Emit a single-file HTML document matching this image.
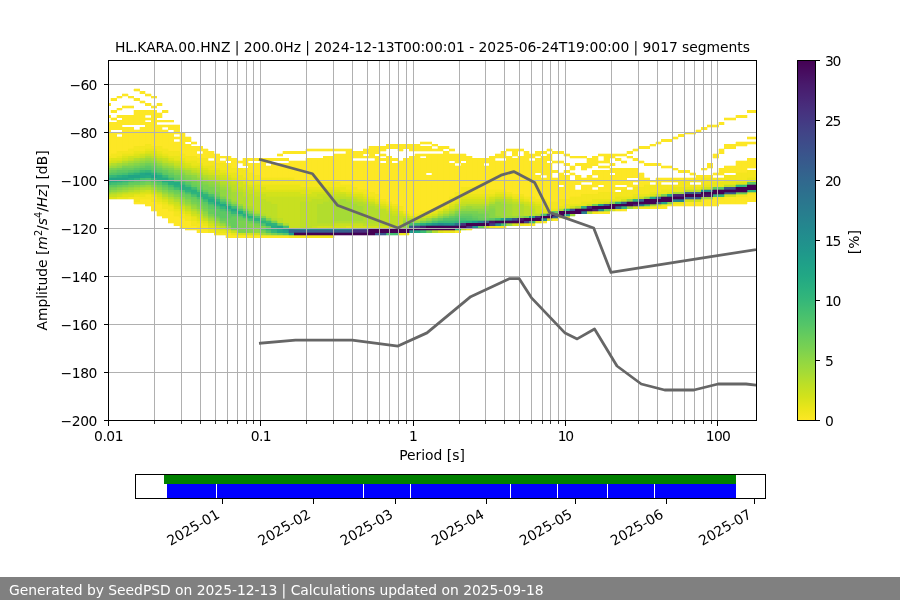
<!DOCTYPE html>
<html><head><meta charset="utf-8"><title>PPSD HL.KARA.00.HNZ</title>
<style>html,body{margin:0;padding:0;background:#fff;overflow:hidden}svg{display:block}text{font-family:"DejaVu Sans","Liberation Sans",sans-serif;font-size:13.89px;fill:#000}</style></head><body>
<svg width="900" height="600" viewBox="0 0 900 600">
<rect width="900" height="600" fill="#fff"/>
<defs><clipPath id="ax"><rect x="108" y="60" width="648" height="360"/></clipPath>
<linearGradient id="cb" x1="0" y1="0" x2="0" y2="1"><stop offset="0.0000" stop-color="#440154"/><stop offset="0.0333" stop-color="#470d60"/><stop offset="0.0667" stop-color="#481a6c"/><stop offset="0.1000" stop-color="#482475"/><stop offset="0.1333" stop-color="#472f7d"/><stop offset="0.1667" stop-color="#443983"/><stop offset="0.2000" stop-color="#414487"/><stop offset="0.2333" stop-color="#3d4d8a"/><stop offset="0.2667" stop-color="#39568c"/><stop offset="0.3000" stop-color="#355f8d"/><stop offset="0.3333" stop-color="#31688e"/><stop offset="0.3667" stop-color="#2d708e"/><stop offset="0.4000" stop-color="#2a788e"/><stop offset="0.4333" stop-color="#27808e"/><stop offset="0.4667" stop-color="#23888e"/><stop offset="0.5000" stop-color="#21908d"/><stop offset="0.5333" stop-color="#1f988b"/><stop offset="0.5667" stop-color="#1fa188"/><stop offset="0.6000" stop-color="#22a884"/><stop offset="0.6333" stop-color="#2ab07f"/><stop offset="0.6667" stop-color="#35b779"/><stop offset="0.7000" stop-color="#44bf70"/><stop offset="0.7333" stop-color="#54c568"/><stop offset="0.7667" stop-color="#67cc5c"/><stop offset="0.8000" stop-color="#7ad151"/><stop offset="0.8333" stop-color="#90d743"/><stop offset="0.8667" stop-color="#a5db36"/><stop offset="0.9000" stop-color="#bddf26"/><stop offset="0.9333" stop-color="#d2e21b"/><stop offset="0.9667" stop-color="#eae51a"/><stop offset="1.0000" stop-color="#fde725"/></linearGradient></defs>
<g clip-path="url(#ax)" shape-rendering="crispEdges">
<path fill="#fde725" stroke="#fde725" stroke-width="0.3" d="M105.13 103.2H110.87V105.6H105.13zM105.13 115.2H110.87V117.6H105.13zM105.13 122.4H110.87V156.0H105.13zM110.87 98.4H116.60V100.8H110.87zM110.87 110.4H116.60V112.8H110.87zM110.87 117.6H116.60V120.0H110.87zM110.87 122.4H116.60V129.6H110.87zM110.87 132.0H116.60V153.6H110.87zM116.60 96.0H122.33V98.4H116.60zM116.60 108.0H122.33V110.4H116.60zM116.60 115.2H122.33V117.6H116.60zM116.60 120.0H122.33V129.6H116.60zM116.60 132.0H122.33V134.4H116.60zM116.60 136.8H122.33V151.2H116.60zM122.33 93.6H128.07V96.0H122.33zM122.33 105.6H128.07V108.0H122.33zM122.33 115.2H128.07V124.8H122.33zM122.33 127.2H128.07V151.2H122.33zM128.07 96.0H133.80V98.4H128.07zM128.07 105.6H133.80V108.0H128.07zM128.07 115.2H133.80V124.8H128.07zM128.07 127.2H133.80V148.8H128.07zM133.80 88.8H139.53V91.2H133.80zM133.80 98.4H139.53V100.8H133.80zM133.80 110.4H139.53V124.8H133.80zM133.80 129.6H139.53V146.4H133.80zM133.80 201.6H139.53V204.0H133.80zM139.53 91.2H145.27V93.6H139.53zM139.53 100.8H145.27V103.2H139.53zM139.53 110.4H145.27V124.8H139.53zM139.53 127.2H145.27V146.4H139.53zM139.53 199.2H145.27V204.0H139.53zM145.27 93.6H151.00V96.0H145.27zM145.27 103.2H151.00V105.6H145.27zM145.27 110.4H151.00V115.2H145.27zM145.27 117.6H151.00V120.0H145.27zM145.27 122.4H151.00V144.0H145.27zM145.27 199.2H151.00V206.4H145.27zM151.00 96.0H156.73V98.4H151.00zM151.00 105.6H156.73V108.0H151.00zM151.00 110.4H156.73V146.4H151.00zM151.00 201.6H156.73V211.2H151.00zM156.73 103.2H162.47V105.6H156.73zM156.73 112.8H162.47V117.6H156.73zM156.73 120.0H162.47V122.4H156.73zM156.73 124.8H162.47V146.4H156.73zM156.73 204.0H162.47V216.0H156.73zM162.47 110.4H168.20V112.8H162.47zM162.47 120.0H168.20V122.4H162.47zM162.47 124.8H168.20V127.2H162.47zM162.47 129.6H168.20V148.8H162.47zM162.47 208.8H168.20V218.4H162.47zM168.20 120.0H173.93V122.4H168.20zM168.20 124.8H173.93V129.6H168.20zM168.20 132.0H173.93V151.2H168.20zM168.20 211.2H173.93V223.2H168.20zM173.93 124.8H179.67V134.4H173.93zM173.93 136.8H179.67V139.2H173.93zM173.93 141.6H179.67V151.2H173.93zM173.93 216.0H179.67V225.6H173.93zM179.67 132.0H185.40V153.6H179.67zM179.67 218.4H185.40V228.0H179.67zM185.40 136.8H191.13V141.6H185.40zM185.40 144.0H191.13V156.0H185.40zM185.40 220.8H191.13V230.4H185.40zM191.13 141.6H196.87V144.0H191.13zM191.13 146.4H196.87V156.0H191.13zM191.13 225.6H196.87V230.4H191.13zM196.87 146.4H202.60V151.2H196.87zM196.87 153.6H202.60V158.4H196.87zM196.87 228.0H202.60V232.8H196.87zM202.60 148.8H208.34V158.4H202.60zM202.60 230.4H208.34V232.8H202.60zM208.34 151.2H214.07V158.4H208.34zM214.07 153.6H219.80V163.2H214.07zM219.80 156.0H225.54V158.4H219.80zM219.80 160.8H225.54V163.2H219.80zM225.54 156.0H231.27V160.8H225.54zM225.54 163.2H231.27V165.6H225.54zM225.54 235.2H231.27V237.6H225.54zM231.27 158.4H237.00V168.0H231.27zM231.27 235.2H237.00V237.6H231.27zM237.00 160.8H242.74V163.2H237.00zM237.00 235.2H242.74V237.6H237.00zM242.74 158.4H248.47V165.6H242.74zM242.74 168.0H248.47V170.4H242.74zM242.74 235.2H248.47V237.6H242.74zM248.47 158.4H254.20V160.8H248.47zM248.47 163.2H254.20V172.8H248.47zM248.47 235.2H254.20V237.6H248.47zM254.20 158.4H259.94V160.8H254.20zM254.20 163.2H259.94V175.2H254.20zM254.20 235.2H259.94V237.6H254.20zM259.94 158.4H265.67V177.6H259.94zM259.94 235.2H265.67V237.6H259.94zM265.67 158.4H271.40V163.2H265.67zM265.67 165.6H271.40V177.6H265.67zM265.67 235.2H271.40V237.6H265.67zM271.40 158.4H277.14V160.8H271.40zM271.40 163.2H277.14V177.6H271.40zM271.40 235.2H277.14V237.6H271.40zM277.14 153.6H282.87V156.0H277.14zM277.14 158.4H282.87V160.8H277.14zM277.14 163.2H282.87V177.6H277.14zM277.14 235.2H282.87V237.6H277.14zM282.87 151.2H288.60V153.6H282.87zM282.87 158.4H288.60V160.8H282.87zM282.87 163.2H288.60V177.6H282.87zM282.87 235.2H288.60V237.6H282.87zM288.60 151.2H294.34V153.6H288.60zM288.60 160.8H294.34V177.6H288.60zM294.34 151.2H300.07V153.6H294.34zM294.34 160.8H300.07V180.0H294.34zM300.07 151.2H305.80V153.6H300.07zM300.07 160.8H305.80V180.0H300.07zM305.80 148.8H311.54V151.2H305.80zM305.80 158.4H311.54V180.0H305.80zM311.54 148.8H317.27V151.2H311.54zM311.54 158.4H317.27V180.0H311.54zM317.27 148.8H323.00V151.2H317.27zM317.27 158.4H323.00V182.4H317.27zM323.00 148.8H328.74V151.2H323.00zM323.00 156.0H328.74V182.4H323.00zM328.74 148.8H334.47V151.2H328.74zM328.74 156.0H334.47V182.4H328.74zM334.47 148.8H340.20V151.2H334.47zM334.47 153.6H340.20V182.4H334.47zM340.20 148.8H345.94V151.2H340.20zM340.20 153.6H345.94V184.8H340.20zM345.94 148.8H351.67V184.8H345.94zM351.67 151.2H357.40V158.4H351.67zM351.67 160.8H357.40V187.2H351.67zM357.40 151.2H363.14V158.4H357.40zM357.40 160.8H363.14V189.6H357.40zM363.14 148.8H368.87V153.6H363.14zM363.14 156.0H368.87V158.4H363.14zM363.14 160.8H368.87V189.6H363.14zM368.87 146.4H374.60V158.4H368.87zM368.87 160.8H374.60V192.0H368.87zM374.60 146.4H380.34V153.6H374.60zM374.60 156.0H380.34V194.4H374.60zM380.34 146.4H386.07V151.2H380.34zM380.34 153.6H386.07V156.0H380.34zM380.34 158.4H386.07V160.8H380.34zM380.34 163.2H386.07V199.2H380.34zM386.07 144.0H391.80V148.8H386.07zM386.07 156.0H391.80V201.6H386.07zM391.80 144.0H397.54V148.8H391.80zM391.80 158.4H397.54V160.8H391.80zM391.80 163.2H397.54V204.0H391.80zM397.54 144.0H403.27V151.2H397.54zM397.54 160.8H403.27V206.4H397.54zM403.27 144.0H409.01V148.8H403.27zM403.27 158.4H409.01V211.2H403.27zM409.01 144.0H414.74V151.2H409.01zM409.01 156.0H414.74V213.6H409.01zM414.74 144.0H420.47V151.2H414.74zM414.74 153.6H420.47V213.6H414.74zM420.47 141.6H426.21V144.0H420.47zM420.47 146.4H426.21V151.2H420.47zM420.47 153.6H426.21V156.0H420.47zM420.47 158.4H426.21V211.2H420.47zM426.21 141.6H431.94V144.0H426.21zM426.21 146.4H431.94V151.2H426.21zM426.21 153.6H431.94V172.8H426.21zM426.21 175.2H431.94V211.2H426.21zM431.94 144.0H437.67V146.4H431.94zM431.94 148.8H437.67V151.2H431.94zM431.94 153.6H437.67V208.8H431.94zM437.67 146.4H443.41V151.2H437.67zM437.67 153.6H443.41V206.4H437.67zM443.41 146.4H449.14V148.8H443.41zM443.41 151.2H449.14V201.6H443.41zM449.14 148.8H454.87V151.2H449.14zM449.14 153.6H454.87V160.8H449.14zM449.14 163.2H454.87V196.8H449.14zM454.87 153.6H460.61V163.2H454.87zM454.87 165.6H460.61V192.0H454.87zM454.87 230.4H460.61V232.8H454.87zM460.61 153.6H466.34V160.8H460.61zM460.61 163.2H466.34V187.2H460.61zM466.34 156.0H472.07V187.2H466.34zM472.07 158.4H477.81V187.2H472.07zM477.81 158.4H483.54V189.6H477.81zM483.54 158.4H489.27V163.2H483.54zM483.54 165.6H489.27V189.6H483.54zM489.27 156.0H495.01V189.6H489.27zM495.01 153.6H500.74V158.4H495.01zM495.01 160.8H500.74V189.6H495.01zM495.01 225.6H500.74V228.0H495.01zM500.74 151.2H506.47V158.4H500.74zM500.74 160.8H506.47V189.6H500.74zM500.74 225.6H506.47V228.0H500.74zM506.47 148.8H512.21V151.2H506.47zM506.47 156.0H512.21V192.0H506.47zM512.21 148.8H517.94V156.0H512.21zM512.21 158.4H517.94V194.4H512.21zM517.94 148.8H523.67V151.2H517.94zM517.94 156.0H523.67V194.4H517.94zM523.67 151.2H529.41V196.8H523.67zM529.41 153.6H535.14V158.4H529.41zM529.41 160.8H535.14V196.8H529.41zM529.41 223.2H535.14V225.6H529.41zM535.14 151.2H540.87V156.0H535.14zM535.14 158.4H540.87V172.8H535.14zM535.14 175.2H540.87V199.2H535.14zM540.87 151.2H546.61V153.6H540.87zM540.87 156.0H546.61V175.2H540.87zM540.87 177.6H546.61V199.2H540.87zM540.87 220.8H546.61V223.2H540.87zM546.61 148.8H552.34V151.2H546.61zM546.61 153.6H552.34V160.8H546.61zM546.61 163.2H552.34V201.6H546.61zM552.34 151.2H558.07V153.6H552.34zM552.34 160.8H558.07V163.2H552.34zM552.34 170.4H558.07V172.8H552.34zM552.34 177.6H558.07V201.6H552.34zM552.34 218.4H558.07V220.8H552.34zM558.07 151.2H563.81V153.6H558.07zM558.07 160.8H563.81V163.2H558.07zM558.07 172.8H563.81V184.8H558.07zM558.07 187.2H563.81V199.2H558.07zM563.81 153.6H569.54V156.0H563.81zM563.81 163.2H569.54V165.6H563.81zM563.81 170.4H569.54V172.8H563.81zM563.81 175.2H569.54V199.2H563.81zM563.81 216.0H569.54V218.4H563.81zM569.54 156.0H575.27V158.4H569.54zM569.54 165.6H575.27V170.4H569.54zM569.54 172.8H575.27V175.2H569.54zM569.54 180.0H575.27V196.8H569.54zM575.27 156.0H581.01V158.4H575.27zM575.27 163.2H581.01V165.6H575.27zM575.27 175.2H581.01V184.8H575.27zM575.27 189.6H581.01V196.8H575.27zM581.01 156.0H586.74V158.4H581.01zM581.01 163.2H586.74V170.4H581.01zM581.01 177.6H586.74V182.4H581.01zM581.01 184.8H586.74V194.4H581.01zM586.74 158.4H592.47V168.0H586.74zM586.74 175.2H592.47V182.4H586.74zM586.74 184.8H592.47V194.4H586.74zM592.47 156.0H598.21V165.6H592.47zM592.47 170.4H598.21V175.2H592.47zM592.47 177.6H598.21V187.2H592.47zM592.47 189.6H598.21V194.4H592.47zM598.21 153.6H603.94V156.0H598.21zM598.21 160.8H603.94V163.2H598.21zM598.21 165.6H603.94V168.0H598.21zM598.21 170.4H603.94V184.8H598.21zM598.21 187.2H603.94V192.0H598.21zM598.21 211.2H603.94V213.6H598.21zM603.94 153.6H609.68V163.2H603.94zM603.94 165.6H609.68V168.0H603.94zM603.94 170.4H609.68V192.0H603.94zM603.94 211.2H609.68V213.6H603.94zM609.68 153.6H615.41V158.4H609.68zM609.68 163.2H615.41V165.6H609.68zM609.68 168.0H615.41V172.8H609.68zM609.68 175.2H615.41V192.0H609.68zM615.41 153.6H621.14V156.0H615.41zM615.41 158.4H621.14V160.8H615.41zM615.41 168.0H621.14V184.8H615.41zM615.41 187.2H621.14V189.6H615.41zM621.14 153.6H626.88V156.0H621.14zM621.14 160.8H626.88V163.2H621.14zM621.14 168.0H626.88V184.8H621.14zM621.14 187.2H626.88V189.6H621.14zM621.14 208.8H626.88V211.2H621.14zM626.88 151.2H632.61V153.6H626.88zM626.88 156.0H632.61V158.4H626.88zM626.88 168.0H632.61V177.6H626.88zM626.88 180.0H632.61V187.2H626.88zM632.61 148.8H638.34V151.2H632.61zM632.61 158.4H638.34V160.8H632.61zM632.61 168.0H638.34V177.6H632.61zM632.61 180.0H638.34V182.4H632.61zM632.61 184.8H638.34V187.2H632.61zM638.34 146.4H644.08V148.8H638.34zM638.34 160.8H644.08V163.2H638.34zM638.34 172.8H644.08V187.2H638.34zM644.08 146.4H649.81V148.8H644.08zM644.08 163.2H649.81V165.6H644.08zM644.08 177.6H649.81V184.8H644.08zM649.81 144.0H655.54V146.4H649.81zM649.81 163.2H655.54V165.6H649.81zM649.81 180.0H655.54V182.4H649.81zM649.81 206.4H655.54V208.8H649.81zM655.54 141.6H661.28V144.0H655.54zM655.54 163.2H661.28V165.6H655.54zM655.54 177.6H661.28V184.8H655.54zM655.54 206.4H661.28V208.8H655.54zM661.28 139.2H667.01V141.6H661.28zM661.28 165.6H667.01V168.0H661.28zM661.28 177.6H667.01V182.4H661.28zM661.28 206.4H667.01V208.8H661.28zM667.01 139.2H672.74V141.6H667.01zM667.01 165.6H672.74V168.0H667.01zM667.01 177.6H672.74V182.4H667.01zM667.01 204.0H672.74V206.4H667.01zM672.74 136.8H678.48V139.2H672.74zM672.74 168.0H678.48V170.4H672.74zM672.74 177.6H678.48V180.0H672.74zM672.74 204.0H678.48V206.4H672.74zM678.48 134.4H684.21V136.8H678.48zM678.48 170.4H684.21V172.8H678.48zM678.48 177.6H684.21V180.0H678.48zM678.48 204.0H684.21V206.4H678.48zM684.21 132.0H689.94V134.4H684.21zM684.21 170.4H689.94V172.8H684.21zM684.21 177.6H689.94V180.0H684.21zM684.21 201.6H689.94V206.4H684.21zM689.94 132.0H695.68V134.4H689.94zM689.94 172.8H695.68V175.2H689.94zM689.94 177.6H695.68V180.0H689.94zM689.94 201.6H695.68V206.4H689.94zM695.68 129.6H701.41V132.0H695.68zM695.68 175.2H701.41V180.0H695.68zM695.68 201.6H701.41V206.4H695.68zM701.41 127.2H707.14V129.6H701.41zM701.41 168.0H707.14V170.4H701.41zM701.41 175.2H707.14V177.6H701.41zM701.41 199.2H707.14V206.4H701.41zM707.14 124.8H712.88V127.2H707.14zM707.14 163.2H712.88V168.0H707.14zM707.14 175.2H712.88V177.6H707.14zM707.14 199.2H712.88V206.4H707.14zM712.88 124.8H718.61V127.2H712.88zM712.88 153.6H718.61V158.4H712.88zM712.88 172.8H718.61V175.2H712.88zM712.88 199.2H718.61V206.4H712.88zM718.61 122.4H724.34V124.8H718.61zM718.61 148.8H724.34V153.6H718.61zM718.61 168.0H724.34V175.2H718.61zM718.61 199.2H724.34V204.0H718.61zM724.34 117.6H730.08V120.0H724.34zM724.34 144.0H730.08V148.8H724.34zM724.34 165.6H730.08V172.8H724.34zM724.34 196.8H730.08V204.0H724.34zM730.08 117.6H735.81V120.0H730.08zM730.08 144.0H735.81V148.8H730.08zM730.08 165.6H735.81V172.8H730.08zM730.08 196.8H735.81V204.0H730.08zM735.81 115.2H741.54V117.6H735.81zM735.81 141.6H741.54V146.4H735.81zM735.81 160.8H741.54V172.8H735.81zM735.81 196.8H741.54V204.0H735.81zM741.54 115.2H747.28V117.6H741.54zM741.54 141.6H747.28V146.4H741.54zM741.54 160.8H747.28V172.8H741.54zM741.54 196.8H747.28V204.0H741.54zM747.28 110.4H753.01V112.8H747.28zM747.28 136.8H753.01V139.2H747.28zM747.28 141.6H753.01V144.0H747.28zM747.28 158.4H753.01V168.0H747.28zM747.28 194.4H753.01V201.6H747.28zM753.01 110.4H758.74V112.8H753.01zM753.01 136.8H758.74V139.2H753.01zM753.01 141.6H758.74V144.0H753.01zM753.01 158.4H758.74V168.0H753.01zM753.01 194.4H758.74V201.6H753.01z"/>
<path fill="#f4e61e" stroke="#f4e61e" stroke-width="0.3" d="M105.13 156.0H110.87V158.4H105.13zM110.87 153.6H116.60V158.4H110.87zM116.60 151.2H122.33V156.0H116.60zM122.33 151.2H128.07V153.6H122.33zM128.07 148.8H133.80V153.6H128.07zM128.07 196.8H133.80V199.2H128.07zM133.80 146.4H139.53V151.2H133.80zM133.80 196.8H139.53V201.6H133.80zM139.53 146.4H145.27V151.2H139.53zM139.53 196.8H145.27V199.2H139.53zM145.27 144.0H151.00V148.8H145.27zM145.27 194.4H151.00V199.2H145.27zM151.00 146.4H156.73V148.8H151.00zM151.00 196.8H156.73V201.6H151.00zM156.73 146.4H162.47V151.2H156.73zM156.73 201.6H162.47V204.0H156.73zM162.47 148.8H168.20V153.6H162.47zM162.47 204.0H168.20V208.8H162.47zM168.20 151.2H173.93V156.0H168.20zM168.20 206.4H173.93V211.2H168.20zM173.93 151.2H179.67V156.0H173.93zM173.93 211.2H179.67V216.0H173.93zM179.67 153.6H185.40V158.4H179.67zM179.67 213.6H185.40V218.4H179.67zM185.40 156.0H191.13V160.8H185.40zM185.40 216.0H191.13V220.8H185.40zM191.13 156.0H196.87V160.8H191.13zM191.13 220.8H196.87V225.6H191.13zM196.87 158.4H202.60V163.2H196.87zM196.87 223.2H202.60V228.0H196.87zM202.60 158.4H208.34V165.6H202.60zM202.60 225.6H208.34V230.4H202.60zM208.34 160.8H214.07V165.6H208.34zM208.34 230.4H214.07V232.8H208.34zM214.07 163.2H219.80V168.0H214.07zM214.07 232.8H219.80V235.2H214.07zM219.80 163.2H225.54V170.4H219.80zM219.80 232.8H225.54V235.2H219.80zM225.54 165.6H231.27V172.8H225.54zM225.54 232.8H231.27V235.2H225.54zM231.27 168.0H237.00V172.8H231.27zM237.00 168.0H242.74V175.2H237.00zM242.74 170.4H248.47V177.6H242.74zM248.47 172.8H254.20V180.0H248.47zM254.20 175.2H259.94V182.4H254.20zM259.94 177.6H265.67V184.8H259.94zM265.67 177.6H271.40V184.8H265.67zM271.40 177.6H277.14V184.8H271.40zM277.14 177.6H282.87V184.8H277.14zM282.87 177.6H288.60V184.8H282.87zM288.60 177.6H294.34V184.8H288.60zM288.60 235.2H294.34V237.6H288.60zM294.34 180.0H300.07V184.8H294.34zM294.34 235.2H300.07V237.6H294.34zM300.07 180.0H305.80V187.2H300.07zM300.07 235.2H305.80V237.6H300.07zM305.80 180.0H311.54V187.2H305.80zM305.80 235.2H311.54V237.6H305.80zM311.54 180.0H317.27V187.2H311.54zM311.54 235.2H317.27V237.6H311.54zM317.27 182.4H323.00V187.2H317.27zM317.27 235.2H323.00V237.6H317.27zM323.00 182.4H328.74V187.2H323.00zM323.00 235.2H328.74V237.6H323.00zM328.74 182.4H334.47V187.2H328.74zM328.74 235.2H334.47V237.6H328.74zM334.47 182.4H340.20V187.2H334.47zM340.20 184.8H345.94V187.2H340.20zM345.94 184.8H351.67V189.6H345.94zM351.67 187.2H357.40V192.0H351.67zM357.40 189.6H363.14V192.0H357.40zM363.14 189.6H368.87V194.4H363.14zM368.87 192.0H374.60V196.8H368.87zM374.60 194.4H380.34V199.2H374.60zM380.34 199.2H386.07V201.6H380.34zM386.07 201.6H391.80V204.0H386.07zM391.80 204.0H397.54V206.4H391.80zM397.54 206.4H403.27V211.2H397.54zM403.27 211.2H409.01V213.6H403.27zM409.01 213.6H414.74V216.0H409.01zM414.74 213.6H420.47V216.0H414.74zM420.47 211.2H426.21V216.0H420.47zM426.21 211.2H431.94V213.6H426.21zM431.94 208.8H437.67V211.2H431.94zM437.67 206.4H443.41V208.8H437.67zM443.41 201.6H449.14V206.4H443.41zM449.14 196.8H454.87V201.6H449.14zM454.87 192.0H460.61V196.8H454.87zM460.61 187.2H466.34V194.4H460.61zM466.34 187.2H472.07V194.4H466.34zM466.34 228.0H472.07V230.4H466.34zM472.07 187.2H477.81V194.4H472.07zM477.81 189.6H483.54V194.4H477.81zM483.54 189.6H489.27V194.4H483.54zM489.27 189.6H495.01V194.4H489.27zM489.27 225.6H495.01V228.0H489.27zM495.01 189.6H500.74V192.0H495.01zM500.74 189.6H506.47V192.0H500.74zM506.47 192.0H512.21V194.4H506.47zM512.21 194.4H517.94V196.8H512.21zM517.94 194.4H523.67V196.8H517.94zM523.67 196.8H529.41V199.2H523.67zM523.67 223.2H529.41V225.6H523.67zM529.41 196.8H535.14V201.6H529.41zM535.14 199.2H540.87V201.6H535.14zM540.87 199.2H546.61V204.0H540.87zM546.61 201.6H552.34V208.8H546.61zM552.34 201.6H558.07V208.8H552.34zM558.07 199.2H563.81V206.4H558.07zM563.81 199.2H569.54V204.0H563.81zM569.54 196.8H575.27V204.0H569.54zM575.27 196.8H581.01V204.0H575.27zM581.01 194.4H586.74V201.6H581.01zM586.74 194.4H592.47V201.6H586.74zM592.47 194.4H598.21V199.2H592.47zM592.47 211.2H598.21V213.6H592.47zM598.21 192.0H603.94V199.2H598.21zM603.94 192.0H609.68V199.2H603.94zM609.68 192.0H615.41V199.2H609.68zM615.41 192.0H621.14V196.8H615.41zM615.41 208.8H621.14V211.2H615.41zM621.14 189.6H626.88V196.8H621.14zM626.88 189.6H632.61V196.8H626.88zM632.61 187.2H638.34V194.4H632.61zM638.34 187.2H644.08V194.4H638.34zM638.34 206.4H644.08V208.8H638.34zM644.08 184.8H649.81V194.4H644.08zM644.08 206.4H649.81V208.8H644.08zM649.81 184.8H655.54V192.0H649.81zM655.54 184.8H661.28V192.0H655.54zM661.28 184.8H667.01V189.6H661.28zM661.28 204.0H667.01V206.4H661.28zM667.01 184.8H672.74V189.6H667.01zM672.74 180.0H678.48V182.4H672.74zM672.74 184.8H678.48V187.2H672.74zM678.48 180.0H684.21V187.2H678.48zM684.21 180.0H689.94V187.2H684.21zM689.94 180.0H695.68V182.4H689.94zM689.94 184.8H695.68V187.2H689.94zM695.68 180.0H701.41V182.4H695.68zM695.68 184.8H701.41V187.2H695.68zM701.41 177.6H707.14V184.8H701.41zM707.14 177.6H712.88V184.8H707.14zM712.88 177.6H718.61V182.4H712.88zM712.88 196.8H718.61V199.2H712.88zM718.61 177.6H724.34V182.4H718.61zM718.61 196.8H724.34V199.2H718.61zM724.34 175.2H730.08V180.0H724.34zM730.08 175.2H735.81V180.0H730.08zM735.81 172.8H741.54V180.0H735.81zM735.81 194.4H741.54V196.8H735.81zM741.54 172.8H747.28V180.0H741.54zM741.54 194.4H747.28V196.8H741.54zM747.28 170.4H753.01V177.6H747.28zM747.28 192.0H753.01V194.4H747.28zM753.01 170.4H758.74V177.6H753.01zM753.01 192.0H758.74V194.4H753.01z"/>
<path fill="#eae51a" stroke="#eae51a" stroke-width="0.3" d="M105.13 158.4H110.87V160.8H105.13zM116.60 156.0H122.33V158.4H116.60zM116.60 196.8H122.33V199.2H116.60zM122.33 153.6H128.07V156.0H122.33zM122.33 196.8H128.07V199.2H122.33zM128.07 153.6H133.80V156.0H128.07zM133.80 151.2H139.53V153.6H133.80zM133.80 194.4H139.53V196.8H133.80zM139.53 151.2H145.27V153.6H139.53zM139.53 194.4H145.27V196.8H139.53zM145.27 148.8H151.00V151.2H145.27zM151.00 148.8H156.73V151.2H151.00zM151.00 194.4H156.73V196.8H151.00zM156.73 151.2H162.47V153.6H156.73zM156.73 199.2H162.47V201.6H156.73zM162.47 153.6H168.20V156.0H162.47zM162.47 201.6H168.20V204.0H162.47zM168.20 156.0H173.93V158.4H168.20zM168.20 204.0H173.93V206.4H168.20zM173.93 156.0H179.67V160.8H173.93zM173.93 208.8H179.67V211.2H173.93zM179.67 158.4H185.40V160.8H179.67zM179.67 211.2H185.40V213.6H179.67zM185.40 160.8H191.13V163.2H185.40zM185.40 213.6H191.13V216.0H185.40zM191.13 160.8H196.87V165.6H191.13zM191.13 216.0H196.87V220.8H191.13zM196.87 163.2H202.60V165.6H196.87zM196.87 220.8H202.60V223.2H196.87zM202.60 165.6H208.34V168.0H202.60zM202.60 223.2H208.34V225.6H202.60zM208.34 165.6H214.07V170.4H208.34zM208.34 228.0H214.07V230.4H208.34zM214.07 168.0H219.80V170.4H214.07zM214.07 230.4H219.80V232.8H214.07zM219.80 170.4H225.54V172.8H219.80zM219.80 230.4H225.54V232.8H219.80zM225.54 172.8H231.27V175.2H225.54zM231.27 172.8H237.00V177.6H231.27zM231.27 232.8H237.00V235.2H231.27zM237.00 175.2H242.74V180.0H237.00zM242.74 177.6H248.47V182.4H242.74zM248.47 180.0H254.20V184.8H248.47zM254.20 182.4H259.94V184.8H254.20zM259.94 184.8H265.67V187.2H259.94zM265.67 184.8H271.40V189.6H265.67zM271.40 184.8H277.14V189.6H271.40zM277.14 184.8H282.87V189.6H277.14zM282.87 184.8H288.60V189.6H282.87zM288.60 184.8H294.34V189.6H288.60zM294.34 184.8H300.07V189.6H294.34zM300.07 187.2H305.80V189.6H300.07zM305.80 187.2H311.54V189.6H305.80zM311.54 187.2H317.27V189.6H311.54zM317.27 187.2H323.00V189.6H317.27zM323.00 187.2H328.74V189.6H323.00zM328.74 187.2H334.47V189.6H328.74zM334.47 187.2H340.20V189.6H334.47zM340.20 187.2H345.94V192.0H340.20zM345.94 189.6H351.67V192.0H345.94zM351.67 192.0H357.40V194.4H351.67zM357.40 192.0H363.14V194.4H357.40zM363.14 194.4H368.87V196.8H363.14zM368.87 196.8H374.60V199.2H368.87zM374.60 199.2H380.34V201.6H374.60zM380.34 201.6H386.07V204.0H380.34zM386.07 204.0H391.80V206.4H386.07zM391.80 206.4H397.54V208.8H391.80zM397.54 232.8H403.27V235.2H397.54zM403.27 232.8H409.01V235.2H403.27zM414.74 216.0H420.47V218.4H414.74zM431.94 211.2H437.67V213.6H431.94zM437.67 208.8H443.41V211.2H437.67zM443.41 206.4H449.14V208.8H443.41zM443.41 230.4H449.14V232.8H443.41zM449.14 201.6H454.87V204.0H449.14zM449.14 230.4H454.87V232.8H449.14zM454.87 196.8H460.61V201.6H454.87zM460.61 194.4H466.34V196.8H460.61zM466.34 194.4H472.07V196.8H466.34zM472.07 194.4H477.81V196.8H472.07zM477.81 194.4H483.54V196.8H477.81zM483.54 194.4H489.27V196.8H483.54zM489.27 194.4H495.01V196.8H489.27zM495.01 192.0H500.74V194.4H495.01zM500.74 192.0H506.47V194.4H500.74zM506.47 194.4H512.21V196.8H506.47zM512.21 196.8H517.94V199.2H512.21zM517.94 196.8H523.67V199.2H517.94zM517.94 223.2H523.67V225.6H517.94zM523.67 199.2H529.41V201.6H523.67zM535.14 201.6H540.87V204.0H535.14zM540.87 204.0H546.61V208.8H540.87zM546.61 208.8H552.34V211.2H546.61zM552.34 208.8H558.07V211.2H552.34zM558.07 206.4H563.81V208.8H558.07zM558.07 216.0H563.81V218.4H558.07zM563.81 204.0H569.54V208.8H563.81zM569.54 204.0H575.27V206.4H569.54zM575.27 204.0H581.01V206.4H575.27zM581.01 201.6H586.74V206.4H581.01zM586.74 201.6H592.47V204.0H586.74zM592.47 199.2H598.21V204.0H592.47zM598.21 199.2H603.94V201.6H598.21zM603.94 199.2H609.68V201.6H603.94zM609.68 199.2H615.41V201.6H609.68zM615.41 196.8H621.14V201.6H615.41zM621.14 196.8H626.88V199.2H621.14zM626.88 196.8H632.61V199.2H626.88zM632.61 194.4H638.34V196.8H632.61zM638.34 194.4H644.08V196.8H638.34zM644.08 194.4H649.81V196.8H644.08zM649.81 192.0H655.54V194.4H649.81zM655.54 192.0H661.28V194.4H655.54zM661.28 189.6H667.01V194.4H661.28zM667.01 189.6H672.74V192.0H667.01zM672.74 187.2H678.48V192.0H672.74zM672.74 201.6H678.48V204.0H672.74zM678.48 187.2H684.21V192.0H678.48zM678.48 201.6H684.21V204.0H678.48zM684.21 187.2H689.94V189.6H684.21zM689.94 187.2H695.68V189.6H689.94zM695.68 187.2H701.41V189.6H695.68zM701.41 184.8H707.14V187.2H701.41zM707.14 184.8H712.88V187.2H707.14zM712.88 182.4H718.61V187.2H712.88zM718.61 182.4H724.34V187.2H718.61zM724.34 180.0H730.08V184.8H724.34zM730.08 180.0H735.81V184.8H730.08zM735.81 180.0H741.54V182.4H735.81zM741.54 180.0H747.28V182.4H741.54zM747.28 177.6H753.01V180.0H747.28zM753.01 177.6H758.74V180.0H753.01z"/>
<path fill="#dfe318" stroke="#dfe318" stroke-width="0.3" d="M105.13 160.8H110.87V163.2H105.13zM105.13 196.8H110.87V199.2H105.13zM110.87 158.4H116.60V160.8H110.87zM110.87 196.8H116.60V199.2H110.87zM116.60 158.4H122.33V160.8H116.60zM122.33 156.0H128.07V158.4H122.33zM122.33 194.4H128.07V196.8H122.33zM128.07 194.4H133.80V196.8H128.07zM133.80 153.6H139.53V156.0H133.80zM139.53 192.0H145.27V194.4H139.53zM145.27 151.2H151.00V153.6H145.27zM145.27 192.0H151.00V194.4H145.27zM151.00 151.2H156.73V153.6H151.00zM156.73 153.6H162.47V156.0H156.73zM156.73 196.8H162.47V199.2H156.73zM162.47 156.0H168.20V158.4H162.47zM162.47 199.2H168.20V201.6H162.47zM168.20 158.4H173.93V160.8H168.20zM173.93 206.4H179.67V208.8H173.93zM179.67 160.8H185.40V163.2H179.67zM179.67 208.8H185.40V211.2H179.67zM185.40 163.2H191.13V165.6H185.40zM185.40 211.2H191.13V213.6H185.40zM191.13 165.6H196.87V168.0H191.13zM196.87 165.6H202.60V168.0H196.87zM196.87 218.4H202.60V220.8H196.87zM202.60 168.0H208.34V170.4H202.60zM202.60 220.8H208.34V223.2H202.60zM208.34 170.4H214.07V172.8H208.34zM208.34 225.6H214.07V228.0H208.34zM214.07 170.4H219.80V175.2H214.07zM214.07 228.0H219.80V230.4H214.07zM219.80 172.8H225.54V175.2H219.80zM225.54 175.2H231.27V177.6H225.54zM225.54 230.4H231.27V232.8H225.54zM231.27 177.6H237.00V180.0H231.27zM237.00 180.0H242.74V182.4H237.00zM242.74 182.4H248.47V184.8H242.74zM248.47 184.8H254.20V187.2H248.47zM254.20 184.8H259.94V189.6H254.20zM259.94 187.2H265.67V192.0H259.94zM265.67 189.6H271.40V192.0H265.67zM271.40 189.6H277.14V192.0H271.40zM277.14 189.6H282.87V192.0H277.14zM282.87 189.6H288.60V192.0H282.87zM288.60 189.6H294.34V192.0H288.60zM294.34 189.6H300.07V192.0H294.34zM300.07 189.6H305.80V194.4H300.07zM305.80 189.6H311.54V194.4H305.80zM311.54 189.6H317.27V192.0H311.54zM317.27 189.6H323.00V192.0H317.27zM323.00 189.6H328.74V192.0H323.00zM328.74 189.6H334.47V192.0H328.74zM334.47 189.6H340.20V192.0H334.47zM345.94 192.0H351.67V194.4H345.94zM345.94 225.6H351.67V228.0H345.94zM351.67 194.4H357.40V196.8H351.67zM357.40 194.4H363.14V196.8H357.40zM363.14 196.8H368.87V199.2H363.14zM368.87 199.2H374.60V201.6H368.87zM374.60 201.6H380.34V204.0H374.60zM380.34 204.0H386.07V206.4H380.34zM386.07 206.4H391.80V208.8H386.07zM391.80 208.8H397.54V211.2H391.80zM397.54 211.2H403.27V213.6H397.54zM403.27 213.6H409.01V216.0H403.27zM409.01 216.0H414.74V218.4H409.01zM426.21 213.6H431.94V216.0H426.21zM437.67 230.4H443.41V232.8H437.67zM449.14 204.0H454.87V206.4H449.14zM454.87 201.6H460.61V204.0H454.87zM460.61 196.8H466.34V199.2H460.61zM466.34 196.8H472.07V199.2H466.34zM472.07 196.8H477.81V199.2H472.07zM477.81 196.8H483.54V199.2H477.81zM483.54 196.8H489.27V199.2H483.54zM495.01 194.4H500.74V196.8H495.01zM500.74 194.4H506.47V196.8H500.74zM517.94 199.2H523.67V201.6H517.94zM529.41 201.6H535.14V204.0H529.41zM535.14 204.0H540.87V206.4H535.14zM535.14 220.8H540.87V223.2H535.14zM540.87 208.8H546.61V213.6H540.87zM598.21 201.6H603.94V204.0H598.21zM632.61 196.8H638.34V199.2H632.61zM649.81 194.4H655.54V196.8H649.81zM667.01 192.0H672.74V194.4H667.01zM735.81 182.4H741.54V184.8H735.81zM741.54 182.4H747.28V184.8H741.54zM747.28 180.0H753.01V182.4H747.28zM753.01 180.0H758.74V182.4H753.01z"/>
<path fill="#d2e21b" stroke="#d2e21b" stroke-width="0.3" d="M110.87 160.8H116.60V163.2H110.87zM116.60 194.4H122.33V196.8H116.60zM122.33 158.4H128.07V160.8H122.33zM128.07 156.0H133.80V158.4H128.07zM128.07 192.0H133.80V194.4H128.07zM133.80 156.0H139.53V158.4H133.80zM133.80 192.0H139.53V194.4H133.80zM139.53 153.6H145.27V156.0H139.53zM145.27 189.6H151.00V192.0H145.27zM151.00 153.6H156.73V156.0H151.00zM151.00 192.0H156.73V194.4H151.00zM156.73 156.0H162.47V158.4H156.73zM156.73 194.4H162.47V196.8H156.73zM168.20 201.6H173.93V204.0H168.20zM173.93 160.8H179.67V163.2H173.93zM173.93 204.0H179.67V206.4H173.93zM179.67 163.2H185.40V165.6H179.67zM179.67 206.4H185.40V208.8H179.67zM185.40 165.6H191.13V168.0H185.40zM191.13 213.6H196.87V216.0H191.13zM196.87 168.0H202.60V170.4H196.87zM196.87 216.0H202.60V218.4H196.87zM202.60 170.4H208.34V172.8H202.60zM208.34 172.8H214.07V175.2H208.34zM208.34 223.2H214.07V225.6H208.34zM214.07 225.6H219.80V228.0H214.07zM219.80 175.2H225.54V177.6H219.80zM219.80 228.0H225.54V230.4H219.80zM225.54 177.6H231.27V180.0H225.54zM231.27 180.0H237.00V182.4H231.27zM237.00 182.4H242.74V187.2H237.00zM237.00 232.8H242.74V235.2H237.00zM242.74 184.8H248.47V189.6H242.74zM242.74 232.8H248.47V235.2H242.74zM248.47 187.2H254.20V189.6H248.47zM248.47 232.8H254.20V235.2H248.47zM254.20 189.6H259.94V192.0H254.20zM254.20 232.8H259.94V235.2H254.20zM259.94 192.0H265.67V194.4H259.94zM265.67 192.0H271.40V196.8H265.67zM271.40 192.0H277.14V196.8H271.40zM277.14 192.0H282.87V196.8H277.14zM282.87 192.0H288.60V196.8H282.87zM288.60 192.0H294.34V196.8H288.60zM294.34 192.0H300.07V196.8H294.34zM300.07 194.4H305.80V196.8H300.07zM305.80 194.4H311.54V196.8H305.80zM311.54 192.0H317.27V196.8H311.54zM317.27 192.0H323.00V194.4H317.27zM317.27 225.6H323.00V228.0H317.27zM323.00 192.0H328.74V194.4H323.00zM323.00 225.6H328.74V228.0H323.00zM328.74 192.0H334.47V194.4H328.74zM328.74 225.6H334.47V228.0H328.74zM334.47 192.0H340.20V194.4H334.47zM334.47 225.6H340.20V228.0H334.47zM340.20 192.0H345.94V194.4H340.20zM340.20 225.6H345.94V228.0H340.20zM345.94 194.4H351.67V196.8H345.94zM351.67 225.6H357.40V228.0H351.67zM357.40 196.8H363.14V199.2H357.40zM357.40 225.6H363.14V228.0H357.40zM363.14 199.2H368.87V201.6H363.14zM363.14 225.6H368.87V228.0H363.14zM368.87 225.6H374.60V228.0H368.87zM374.60 225.6H380.34V228.0H374.60zM380.34 206.4H386.07V208.8H380.34zM380.34 225.6H386.07V228.0H380.34zM386.07 208.8H391.80V211.2H386.07zM386.07 225.6H391.80V228.0H386.07zM391.80 211.2H397.54V213.6H391.80zM391.80 225.6H397.54V228.0H391.80zM397.54 213.6H403.27V216.0H397.54zM420.47 216.0H426.21V218.4H420.47zM431.94 213.6H437.67V216.0H431.94zM437.67 211.2H443.41V213.6H437.67zM443.41 208.8H449.14V211.2H443.41zM449.14 206.4H454.87V208.8H449.14zM460.61 199.2H466.34V201.6H460.61zM466.34 199.2H472.07V201.6H466.34zM472.07 199.2H477.81V201.6H472.07zM477.81 199.2H483.54V201.6H477.81zM483.54 199.2H489.27V201.6H483.54zM489.27 196.8H495.01V199.2H489.27zM506.47 196.8H512.21V199.2H506.47zM512.21 199.2H517.94V201.6H512.21zM512.21 223.2H517.94V225.6H512.21zM523.67 201.6H529.41V204.0H523.67zM529.41 204.0H535.14V206.4H529.41zM535.14 206.4H540.87V213.6H535.14zM546.61 211.2H552.34V213.6H546.61zM546.61 218.4H552.34V220.8H546.61zM569.54 206.4H575.27V208.8H569.54zM603.94 201.6H609.68V204.0H603.94zM609.68 208.8H615.41V211.2H609.68zM621.14 199.2H626.88V201.6H621.14zM632.61 206.4H638.34V208.8H632.61zM655.54 204.0H661.28V206.4H655.54zM684.21 199.2H689.94V201.6H684.21zM689.94 199.2H695.68V201.6H689.94zM695.68 199.2H701.41V201.6H695.68zM701.41 187.2H707.14V189.6H701.41zM707.14 187.2H712.88V189.6H707.14zM724.34 194.4H730.08V196.8H724.34zM730.08 194.4H735.81V196.8H730.08z"/>
<path fill="#c8e020" stroke="#c8e020" stroke-width="0.3" d="M105.13 163.2H110.87V165.6H105.13zM105.13 194.4H110.87V196.8H105.13zM110.87 194.4H116.60V196.8H110.87zM116.60 160.8H122.33V163.2H116.60zM122.33 192.0H128.07V194.4H122.33zM128.07 158.4H133.80V160.8H128.07zM139.53 156.0H145.27V158.4H139.53zM139.53 189.6H145.27V192.0H139.53zM145.27 153.6H151.00V156.0H145.27zM162.47 158.4H168.20V160.8H162.47zM162.47 196.8H168.20V199.2H162.47zM168.20 160.8H173.93V163.2H168.20zM168.20 199.2H173.93V201.6H168.20zM173.93 163.2H179.67V165.6H173.93zM173.93 201.6H179.67V204.0H173.93zM179.67 165.6H185.40V168.0H179.67zM185.40 208.8H191.13V211.2H185.40zM191.13 168.0H196.87V170.4H191.13zM191.13 211.2H196.87V213.6H191.13zM196.87 170.4H202.60V172.8H196.87zM196.87 213.6H202.60V216.0H196.87zM202.60 172.8H208.34V175.2H202.60zM202.60 218.4H208.34V220.8H202.60zM214.07 175.2H219.80V177.6H214.07zM219.80 177.6H225.54V180.0H219.80zM225.54 180.0H231.27V182.4H225.54zM231.27 182.4H237.00V184.8H231.27zM231.27 230.4H237.00V232.8H231.27zM237.00 187.2H242.74V189.6H237.00zM242.74 189.6H248.47V192.0H242.74zM248.47 189.6H254.20V194.4H248.47zM254.20 192.0H259.94V196.8H254.20zM259.94 194.4H265.67V199.2H259.94zM265.67 196.8H271.40V201.6H265.67zM271.40 196.8H277.14V204.0H271.40zM277.14 196.8H282.87V218.4H277.14zM282.87 196.8H288.60V223.2H282.87zM288.60 196.8H294.34V228.0H288.60zM294.34 196.8H300.07V228.0H294.34zM300.07 196.8H305.80V201.6H300.07zM305.80 196.8H311.54V201.6H305.80zM311.54 196.8H317.27V199.2H311.54zM311.54 225.6H317.27V228.0H311.54zM317.27 194.4H323.00V199.2H317.27zM323.00 194.4H328.74V196.8H323.00zM328.74 194.4H334.47V196.8H328.74zM334.47 194.4H340.20V196.8H334.47zM334.47 223.2H340.20V225.6H334.47zM340.20 194.4H345.94V196.8H340.20zM340.20 223.2H345.94V225.6H340.20zM345.94 223.2H351.67V225.6H345.94zM351.67 196.8H357.40V199.2H351.67zM351.67 223.2H357.40V225.6H351.67zM357.40 199.2H363.14V201.6H357.40zM357.40 223.2H363.14V225.6H357.40zM368.87 201.6H374.60V204.0H368.87zM374.60 204.0H380.34V206.4H374.60zM386.07 211.2H391.80V213.6H386.07zM391.80 213.6H397.54V216.0H391.80zM397.54 216.0H403.27V228.0H397.54zM403.27 216.0H409.01V218.4H403.27zM414.74 218.4H420.47V220.8H414.74zM426.21 216.0H431.94V218.4H426.21zM454.87 204.0H460.61V206.4H454.87zM460.61 201.6H466.34V204.0H460.61zM466.34 201.6H472.07V204.0H466.34zM472.07 201.6H477.81V204.0H472.07zM477.81 201.6H483.54V204.0H477.81zM483.54 201.6H489.27V204.0H483.54zM483.54 225.6H489.27V228.0H483.54zM489.27 199.2H495.01V201.6H489.27zM495.01 196.8H500.74V199.2H495.01zM500.74 196.8H506.47V199.2H500.74zM517.94 201.6H523.67V204.0H517.94zM523.67 204.0H529.41V206.4H523.67zM529.41 206.4H535.14V208.8H529.41zM586.74 204.0H592.47V206.4H586.74zM638.34 196.8H644.08V199.2H638.34z"/>
<path fill="#bddf26" stroke="#bddf26" stroke-width="0.3" d="M116.60 192.0H122.33V194.4H116.60zM133.80 189.6H139.53V192.0H133.80zM151.00 156.0H156.73V158.4H151.00zM151.00 189.6H156.73V192.0H151.00zM156.73 158.4H162.47V160.8H156.73zM156.73 192.0H162.47V194.4H156.73zM162.47 160.8H168.20V163.2H162.47zM179.67 204.0H185.40V206.4H179.67zM185.40 168.0H191.13V170.4H185.40zM185.40 206.4H191.13V208.8H185.40zM191.13 170.4H196.87V172.8H191.13zM208.34 175.2H214.07V177.6H208.34zM208.34 220.8H214.07V223.2H208.34zM214.07 177.6H219.80V180.0H214.07zM219.80 180.0H225.54V182.4H219.80zM219.80 225.6H225.54V228.0H219.80zM225.54 182.4H231.27V184.8H225.54zM225.54 228.0H231.27V230.4H225.54zM231.27 184.8H237.00V189.6H231.27zM237.00 189.6H242.74V192.0H237.00zM242.74 192.0H248.47V196.8H242.74zM248.47 194.4H254.20V206.4H248.47zM254.20 196.8H259.94V211.2H254.20zM259.94 199.2H265.67V213.6H259.94zM265.67 201.6H271.40V216.0H265.67zM271.40 204.0H277.14V218.4H271.40zM277.14 218.4H282.87V223.2H277.14zM300.07 201.6H305.80V228.0H300.07zM305.80 201.6H311.54V228.0H305.80zM311.54 199.2H317.27V225.6H311.54zM317.27 199.2H323.00V204.0H317.27zM317.27 223.2H323.00V225.6H317.27zM323.00 196.8H328.74V201.6H323.00zM323.00 223.2H328.74V225.6H323.00zM328.74 196.8H334.47V199.2H328.74zM328.74 223.2H334.47V225.6H328.74zM334.47 196.8H340.20V199.2H334.47zM340.20 196.8H345.94V199.2H340.20zM345.94 196.8H351.67V199.2H345.94zM351.67 199.2H357.40V201.6H351.67zM363.14 201.6H368.87V204.0H363.14zM363.14 223.2H368.87V225.6H363.14zM368.87 204.0H374.60V206.4H368.87zM368.87 223.2H374.60V225.6H368.87zM374.60 206.4H380.34V208.8H374.60zM374.60 223.2H380.34V225.6H374.60zM380.34 208.8H386.07V225.6H380.34zM386.07 213.6H391.80V225.6H386.07zM391.80 216.0H397.54V225.6H391.80zM409.01 218.4H414.74V220.8H409.01zM443.41 211.2H449.14V213.6H443.41zM449.14 208.8H454.87V211.2H449.14zM454.87 206.4H460.61V208.8H454.87zM460.61 204.0H466.34V206.4H460.61zM460.61 228.0H466.34V230.4H460.61zM506.47 199.2H512.21V201.6H506.47zM512.21 201.6H517.94V204.0H512.21zM523.67 206.4H529.41V216.0H523.67zM529.41 208.8H535.14V216.0H529.41zM655.54 194.4H661.28V196.8H655.54zM684.21 189.6H689.94V192.0H684.21zM689.94 189.6H695.68V192.0H689.94zM695.68 189.6H701.41V192.0H695.68zM724.34 184.8H730.08V187.2H724.34zM730.08 184.8H735.81V187.2H730.08z"/>
<path fill="#b2dd2d" stroke="#b2dd2d" stroke-width="0.3" d="M110.87 163.2H116.60V165.6H110.87zM110.87 192.0H116.60V194.4H110.87zM122.33 160.8H128.07V163.2H122.33zM128.07 189.6H133.80V192.0H128.07zM133.80 158.4H139.53V160.8H133.80zM139.53 187.2H145.27V189.6H139.53zM145.27 156.0H151.00V158.4H145.27zM145.27 187.2H151.00V189.6H145.27zM162.47 194.4H168.20V196.8H162.47zM168.20 163.2H173.93V165.6H168.20zM168.20 196.8H173.93V199.2H168.20zM173.93 165.6H179.67V168.0H173.93zM173.93 199.2H179.67V201.6H173.93zM179.67 168.0H185.40V170.4H179.67zM191.13 208.8H196.87V211.2H191.13zM196.87 172.8H202.60V175.2H196.87zM196.87 211.2H202.60V213.6H196.87zM202.60 175.2H208.34V177.6H202.60zM202.60 216.0H208.34V218.4H202.60zM208.34 177.6H214.07V180.0H208.34zM214.07 180.0H219.80V182.4H214.07zM214.07 223.2H219.80V225.6H214.07zM219.80 182.4H225.54V184.8H219.80zM225.54 184.8H231.27V187.2H225.54zM231.27 189.6H237.00V192.0H231.27zM237.00 192.0H242.74V204.0H237.00zM242.74 196.8H248.47V206.4H242.74zM248.47 206.4H254.20V208.8H248.47zM254.20 211.2H259.94V213.6H254.20zM259.94 213.6H265.67V216.0H259.94zM265.67 216.0H271.40V218.4H265.67zM271.40 218.4H277.14V220.8H271.40zM282.87 223.2H288.60V225.6H282.87zM317.27 204.0H323.00V223.2H317.27zM323.00 201.6H328.74V223.2H323.00zM328.74 199.2H334.47V223.2H328.74zM334.47 199.2H340.20V201.6H334.47zM334.47 220.8H340.20V223.2H334.47zM340.20 220.8H345.94V223.2H340.20zM345.94 199.2H351.67V201.6H345.94zM345.94 220.8H351.67V223.2H345.94zM351.67 201.6H357.40V204.0H351.67zM351.67 220.8H357.40V223.2H351.67zM357.40 201.6H363.14V206.4H357.40zM357.40 220.8H363.14V223.2H357.40zM363.14 204.0H368.87V223.2H363.14zM368.87 206.4H374.60V223.2H368.87zM374.60 208.8H380.34V223.2H374.60zM403.27 218.4H409.01V220.8H403.27zM420.47 218.4H426.21V220.8H420.47zM431.94 216.0H437.67V218.4H431.94zM431.94 230.4H437.67V232.8H431.94zM437.67 213.6H443.41V216.0H437.67zM466.34 204.0H472.07V206.4H466.34zM472.07 204.0H477.81V206.4H472.07zM477.81 204.0H483.54V206.4H477.81zM483.54 204.0H489.27V206.4H483.54zM489.27 201.6H495.01V204.0H489.27zM495.01 199.2H500.74V201.6H495.01zM500.74 199.2H506.47V201.6H500.74zM506.47 201.6H512.21V204.0H506.47zM512.21 204.0H517.94V216.0H512.21zM517.94 204.0H523.67V216.0H517.94zM535.14 213.6H540.87V216.0H535.14zM558.07 208.8H563.81V211.2H558.07zM575.27 206.4H581.01V208.8H575.27zM586.74 211.2H592.47V213.6H586.74z"/>
<path fill="#a5db36" stroke="#a5db36" stroke-width="0.3" d="M105.13 165.6H110.87V168.0H105.13zM105.13 192.0H110.87V194.4H105.13zM116.60 163.2H122.33V165.6H116.60zM122.33 189.6H128.07V192.0H122.33zM128.07 160.8H133.80V163.2H128.07zM133.80 187.2H139.53V189.6H133.80zM139.53 158.4H145.27V160.8H139.53zM151.00 158.4H156.73V160.8H151.00zM151.00 187.2H156.73V189.6H151.00zM156.73 160.8H162.47V163.2H156.73zM162.47 163.2H168.20V165.6H162.47zM179.67 201.6H185.40V204.0H179.67zM185.40 170.4H191.13V172.8H185.40zM185.40 204.0H191.13V206.4H185.40zM191.13 172.8H196.87V175.2H191.13zM196.87 175.2H202.60V177.6H196.87zM202.60 177.6H208.34V180.0H202.60zM208.34 218.4H214.07V220.8H208.34zM219.80 184.8H225.54V187.2H219.80zM225.54 187.2H231.27V189.6H225.54zM231.27 192.0H237.00V201.6H231.27zM242.74 206.4H248.47V208.8H242.74zM248.47 208.8H254.20V211.2H248.47zM259.94 232.8H265.67V235.2H259.94zM334.47 201.6H340.20V220.8H334.47zM340.20 199.2H345.94V220.8H340.20zM345.94 201.6H351.67V220.8H345.94zM351.67 204.0H357.40V220.8H351.67zM357.40 206.4H363.14V220.8H357.40zM449.14 211.2H454.87V213.6H449.14zM454.87 208.8H460.61V211.2H454.87zM460.61 206.4H466.34V208.8H460.61zM472.07 206.4H477.81V208.8H472.07zM477.81 206.4H483.54V208.8H477.81zM500.74 201.6H506.47V204.0H500.74zM506.47 204.0H512.21V216.0H506.47zM672.74 192.0H678.48V194.4H672.74zM678.48 192.0H684.21V194.4H678.48zM701.41 196.8H707.14V199.2H701.41zM707.14 196.8H712.88V199.2H707.14z"/>
<path fill="#9bd93c" stroke="#9bd93c" stroke-width="0.3" d="M110.87 165.6H116.60V168.0H110.87zM116.60 189.6H122.33V192.0H116.60zM122.33 163.2H128.07V165.6H122.33zM128.07 187.2H133.80V189.6H128.07zM133.80 160.8H139.53V163.2H133.80zM145.27 158.4H151.00V160.8H145.27zM145.27 184.8H151.00V187.2H145.27zM156.73 189.6H162.47V192.0H156.73zM162.47 192.0H168.20V194.4H162.47zM168.20 165.6H173.93V168.0H168.20zM168.20 194.4H173.93V196.8H168.20zM173.93 168.0H179.67V170.4H173.93zM173.93 196.8H179.67V199.2H173.93zM179.67 170.4H185.40V172.8H179.67zM179.67 199.2H185.40V201.6H179.67zM185.40 172.8H191.13V175.2H185.40zM191.13 206.4H196.87V208.8H191.13zM196.87 208.8H202.60V211.2H196.87zM202.60 213.6H208.34V216.0H202.60zM208.34 180.0H214.07V182.4H208.34zM214.07 182.4H219.80V184.8H214.07zM214.07 220.8H219.80V223.2H214.07zM219.80 187.2H225.54V189.6H219.80zM219.80 223.2H225.54V225.6H219.80zM225.54 189.6H231.27V199.2H225.54zM237.00 204.0H242.74V206.4H237.00zM403.27 220.8H409.01V223.2H403.27zM414.74 220.8H420.47V223.2H414.74zM426.21 218.4H431.94V220.8H426.21zM443.41 213.6H449.14V216.0H443.41zM466.34 206.4H472.07V208.8H466.34zM483.54 206.4H489.27V208.8H483.54zM489.27 204.0H495.01V206.4H489.27zM495.01 201.6H500.74V216.0H495.01zM500.74 204.0H506.47V218.4H500.74zM506.47 216.0H512.21V218.4H506.47zM506.47 223.2H512.21V225.6H506.47zM512.21 216.0H517.94V218.4H512.21zM569.54 213.6H575.27V216.0H569.54zM626.88 206.4H632.61V208.8H626.88zM649.81 204.0H655.54V206.4H649.81z"/>
<path fill="#90d743" stroke="#90d743" stroke-width="0.3" d="M110.87 189.6H116.60V192.0H110.87zM116.60 165.6H122.33V168.0H116.60zM122.33 187.2H128.07V189.6H122.33zM128.07 163.2H133.80V165.6H128.07zM139.53 160.8H145.27V163.2H139.53zM139.53 184.8H145.27V187.2H139.53zM151.00 160.8H156.73V163.2H151.00zM156.73 163.2H162.47V165.6H156.73zM162.47 165.6H168.20V168.0H162.47zM185.40 201.6H191.13V204.0H185.40zM191.13 175.2H196.87V177.6H191.13zM191.13 204.0H196.87V206.4H191.13zM196.87 177.6H202.60V180.0H196.87zM202.60 180.0H208.34V182.4H202.60zM202.60 211.2H208.34V213.6H202.60zM208.34 182.4H214.07V184.8H208.34zM208.34 216.0H214.07V218.4H208.34zM214.07 184.8H219.80V187.2H214.07zM219.80 189.6H225.54V196.8H219.80zM225.54 225.6H231.27V228.0H225.54zM231.27 201.6H237.00V204.0H231.27zM254.20 228.0H259.94V232.8H254.20zM265.67 232.8H271.40V235.2H265.67zM403.27 223.2H409.01V228.0H403.27zM409.01 220.8H414.74V223.2H409.01zM437.67 216.0H443.41V218.4H437.67zM460.61 208.8H466.34V211.2H460.61zM466.34 208.8H472.07V211.2H466.34zM472.07 208.8H477.81V211.2H472.07zM477.81 208.8H483.54V211.2H477.81zM483.54 208.8H489.27V211.2H483.54zM489.27 206.4H495.01V208.8H489.27zM495.01 216.0H500.74V218.4H495.01zM517.94 216.0H523.67V218.4H517.94zM609.68 201.6H615.41V204.0H609.68zM626.88 199.2H632.61V201.6H626.88zM644.08 196.8H649.81V199.2H644.08z"/>
<path fill="#86d549" stroke="#86d549" stroke-width="0.3" d="M105.13 168.0H110.87V170.4H105.13zM105.13 189.6H110.87V192.0H105.13zM116.60 187.2H122.33V189.6H116.60zM133.80 163.2H139.53V165.6H133.80zM133.80 184.8H139.53V187.2H133.80zM145.27 160.8H151.00V163.2H145.27zM151.00 184.8H156.73V187.2H151.00zM156.73 187.2H162.47V189.6H156.73zM162.47 189.6H168.20V192.0H162.47zM168.20 168.0H173.93V170.4H168.20zM168.20 192.0H173.93V194.4H168.20zM173.93 170.4H179.67V172.8H173.93zM173.93 194.4H179.67V196.8H173.93zM179.67 172.8H185.40V175.2H179.67zM179.67 196.8H185.40V199.2H179.67zM185.40 175.2H191.13V177.6H185.40zM185.40 199.2H191.13V201.6H185.40zM191.13 177.6H196.87V180.0H191.13zM196.87 180.0H202.60V182.4H196.87zM196.87 206.4H202.60V208.8H196.87zM202.60 182.4H208.34V184.8H202.60zM208.34 184.8H214.07V187.2H208.34zM214.07 187.2H219.80V192.0H214.07zM214.07 218.4H219.80V220.8H214.07zM225.54 199.2H231.27V201.6H225.54zM231.27 228.0H237.00V230.4H231.27zM248.47 211.2H254.20V213.6H248.47zM248.47 223.2H254.20V232.8H248.47zM254.20 213.6H259.94V216.0H254.20zM254.20 225.6H259.94V228.0H254.20zM259.94 216.0H265.67V218.4H259.94zM259.94 225.6H265.67V228.0H259.94zM265.67 218.4H271.40V220.8H265.67zM449.14 213.6H454.87V216.0H449.14zM454.87 211.2H460.61V213.6H454.87zM477.81 211.2H483.54V213.6H477.81zM483.54 211.2H489.27V213.6H483.54zM489.27 208.8H495.01V218.4H489.27zM667.01 201.6H672.74V204.0H667.01z"/>
<path fill="#7ad151" stroke="#7ad151" stroke-width="0.3" d="M110.87 168.0H116.60V170.4H110.87zM110.87 187.2H116.60V189.6H110.87zM122.33 165.6H128.07V168.0H122.33zM128.07 165.6H133.80V168.0H128.07zM128.07 184.8H133.80V187.2H128.07zM139.53 163.2H145.27V165.6H139.53zM145.27 182.4H151.00V184.8H145.27zM151.00 163.2H156.73V165.6H151.00zM156.73 165.6H162.47V168.0H156.73zM162.47 168.0H168.20V170.4H162.47zM168.20 170.4H173.93V172.8H168.20zM173.93 172.8H179.67V175.2H173.93zM179.67 175.2H185.40V177.6H179.67zM185.40 177.6H191.13V180.0H185.40zM191.13 180.0H196.87V182.4H191.13zM191.13 201.6H196.87V204.0H191.13zM196.87 182.4H202.60V184.8H196.87zM196.87 204.0H202.60V206.4H196.87zM202.60 184.8H208.34V189.6H202.60zM202.60 208.8H208.34V211.2H202.60zM208.34 187.2H214.07V192.0H208.34zM208.34 213.6H214.07V216.0H208.34zM214.07 192.0H219.80V194.4H214.07zM219.80 196.8H225.54V199.2H219.80zM219.80 220.8H225.54V223.2H219.80zM237.00 206.4H242.74V208.8H237.00zM237.00 220.8H242.74V232.8H237.00zM242.74 208.8H248.47V211.2H242.74zM242.74 220.8H248.47V232.8H242.74zM254.20 223.2H259.94V225.6H254.20zM259.94 230.4H265.67V232.8H259.94zM271.40 220.8H277.14V223.2H271.40zM271.40 232.8H277.14V235.2H271.40zM420.47 220.8H426.21V223.2H420.47zM431.94 218.4H437.67V220.8H431.94zM443.41 216.0H449.14V218.4H443.41zM460.61 211.2H466.34V213.6H460.61zM466.34 211.2H472.07V213.6H466.34zM472.07 211.2H477.81V213.6H472.07zM483.54 213.6H489.27V218.4H483.54zM661.28 194.4H667.01V196.8H661.28z"/>
<path fill="#70cf57" stroke="#70cf57" stroke-width="0.3" d="M105.13 170.4H110.87V172.8H105.13zM105.13 187.2H110.87V189.6H105.13zM116.60 168.0H122.33V170.4H116.60zM122.33 184.8H128.07V187.2H122.33zM133.80 165.6H139.53V168.0H133.80zM139.53 182.4H145.27V184.8H139.53zM145.27 163.2H151.00V165.6H145.27zM151.00 182.4H156.73V184.8H151.00zM156.73 184.8H162.47V187.2H156.73zM162.47 187.2H168.20V189.6H162.47zM168.20 189.6H173.93V192.0H168.20zM173.93 192.0H179.67V194.4H173.93zM179.67 177.6H185.40V180.0H179.67zM179.67 194.4H185.40V196.8H179.67zM185.40 180.0H191.13V182.4H185.40zM185.40 196.8H191.13V199.2H185.40zM191.13 182.4H196.87V184.8H191.13zM191.13 199.2H196.87V201.6H191.13zM196.87 184.8H202.60V187.2H196.87zM196.87 201.6H202.60V204.0H196.87zM202.60 206.4H208.34V208.8H202.60zM208.34 192.0H214.07V194.4H208.34zM214.07 194.4H219.80V196.8H214.07zM214.07 216.0H219.80V218.4H214.07zM225.54 223.2H231.27V225.6H225.54zM231.27 204.0H237.00V206.4H231.27zM237.00 218.4H242.74V220.8H237.00zM242.74 218.4H248.47V220.8H242.74zM248.47 220.8H254.20V223.2H248.47zM277.14 223.2H282.87V225.6H277.14zM426.21 230.4H431.94V232.8H426.21zM454.87 213.6H460.61V216.0H454.87zM472.07 213.6H477.81V216.0H472.07zM477.81 213.6H483.54V218.4H477.81zM523.67 216.0H529.41V218.4H523.67zM592.47 204.0H598.21V206.4H592.47zM603.94 208.8H609.68V211.2H603.94z"/>
<path fill="#67cc5c" stroke="#67cc5c" stroke-width="0.3" d="M110.87 170.4H116.60V172.8H110.87zM116.60 184.8H122.33V187.2H116.60zM122.33 168.0H128.07V170.4H122.33zM128.07 168.0H133.80V170.4H128.07zM128.07 182.4H133.80V184.8H128.07zM133.80 182.4H139.53V184.8H133.80zM139.53 165.6H145.27V168.0H139.53zM145.27 180.0H151.00V182.4H145.27zM151.00 165.6H156.73V168.0H151.00zM156.73 168.0H162.47V170.4H156.73zM162.47 170.4H168.20V172.8H162.47zM168.20 172.8H173.93V175.2H168.20zM173.93 175.2H179.67V177.6H173.93zM173.93 189.6H179.67V192.0H173.93zM179.67 192.0H185.40V194.4H179.67zM185.40 194.4H191.13V196.8H185.40zM191.13 184.8H196.87V187.2H191.13zM191.13 196.8H196.87V199.2H191.13zM196.87 187.2H202.60V189.6H196.87zM196.87 199.2H202.60V201.6H196.87zM202.60 189.6H208.34V192.0H202.60zM202.60 204.0H208.34V206.4H202.60zM208.34 208.8H214.07V213.6H208.34zM219.80 218.4H225.54V220.8H219.80zM225.54 201.6H231.27V204.0H225.54zM225.54 218.4H231.27V223.2H225.54zM231.27 216.0H237.00V228.0H231.27zM237.00 216.0H242.74V218.4H237.00zM265.67 225.6H271.40V228.0H265.67zM277.14 232.8H282.87V235.2H277.14zM426.21 220.8H431.94V223.2H426.21zM437.67 218.4H443.41V220.8H437.67zM449.14 216.0H454.87V218.4H449.14zM460.61 213.6H466.34V216.0H460.61zM466.34 213.6H472.07V216.0H466.34zM472.07 216.0H477.81V218.4H472.07zM477.81 218.4H483.54V220.8H477.81zM477.81 225.6H483.54V228.0H477.81zM483.54 218.4H489.27V220.8H483.54zM552.34 211.2H558.07V213.6H552.34zM735.81 192.0H741.54V194.4H735.81zM741.54 192.0H747.28V194.4H741.54z"/>
<path fill="#5cc863" stroke="#5cc863" stroke-width="0.3" d="M105.13 172.8H110.87V175.2H105.13zM105.13 184.8H110.87V187.2H105.13zM110.87 184.8H116.60V187.2H110.87zM116.60 170.4H122.33V172.8H116.60zM122.33 170.4H128.07V172.8H122.33zM133.80 168.0H139.53V170.4H133.80zM139.53 180.0H145.27V182.4H139.53zM145.27 165.6H151.00V168.0H145.27zM151.00 168.0H156.73V170.4H151.00zM156.73 170.4H162.47V172.8H156.73zM156.73 182.4H162.47V184.8H156.73zM162.47 172.8H168.20V175.2H162.47zM162.47 184.8H168.20V187.2H162.47zM168.20 175.2H173.93V177.6H168.20zM168.20 187.2H173.93V189.6H168.20zM173.93 177.6H179.67V180.0H173.93zM179.67 180.0H185.40V182.4H179.67zM185.40 182.4H191.13V184.8H185.40zM202.60 201.6H208.34V204.0H202.60zM208.34 206.4H214.07V208.8H208.34zM214.07 208.8H219.80V216.0H214.07zM219.80 199.2H225.54V201.6H219.80zM219.80 211.2H225.54V218.4H219.80zM225.54 213.6H231.27V218.4H225.54zM454.87 216.0H460.61V218.4H454.87zM460.61 216.0H466.34V218.4H460.61zM466.34 216.0H472.07V218.4H466.34zM472.07 218.4H477.81V220.8H472.07zM489.27 218.4H495.01V220.8H489.27zM712.88 187.2H718.61V189.6H712.88zM718.61 187.2H724.34V189.6H718.61zM747.28 182.4H753.01V184.8H747.28zM753.01 182.4H758.74V184.8H753.01z"/>
<path fill="#54c568" stroke="#54c568" stroke-width="0.3" d="M110.87 172.8H116.60V175.2H110.87zM122.33 182.4H128.07V184.8H122.33zM128.07 170.4H133.80V172.8H128.07zM133.80 180.0H139.53V182.4H133.80zM139.53 168.0H145.27V170.4H139.53zM145.27 168.0H151.00V170.4H145.27zM151.00 180.0H156.73V182.4H151.00zM208.34 204.0H214.07V206.4H208.34zM214.07 196.8H219.80V199.2H214.07zM225.54 211.2H231.27V213.6H225.54zM231.27 213.6H237.00V216.0H231.27zM248.47 213.6H254.20V216.0H248.47zM254.20 216.0H259.94V218.4H254.20zM254.20 220.8H259.94V223.2H254.20zM259.94 223.2H265.67V225.6H259.94zM259.94 228.0H265.67V230.4H259.94zM265.67 230.4H271.40V232.8H265.67zM282.87 232.8H288.60V235.2H282.87zM443.41 218.4H449.14V220.8H443.41zM449.14 218.4H454.87V220.8H449.14zM466.34 218.4H472.07V220.8H466.34z"/>
<path fill="#4cc26c" stroke="#4cc26c" stroke-width="0.3" d="M116.60 172.8H122.33V175.2H116.60zM116.60 182.4H122.33V184.8H116.60zM133.80 170.4H139.53V172.8H133.80zM145.27 177.6H151.00V180.0H145.27zM151.00 170.4H156.73V172.8H151.00zM179.67 189.6H185.40V192.0H179.67zM185.40 192.0H191.13V194.4H185.40zM191.13 194.4H196.87V196.8H191.13zM196.87 189.6H202.60V192.0H196.87zM196.87 196.8H202.60V199.2H196.87zM202.60 192.0H208.34V194.4H202.60zM208.34 194.4H214.07V196.8H208.34zM214.07 206.4H219.80V208.8H214.07zM219.80 208.8H225.54V211.2H219.80zM237.00 208.8H242.74V211.2H237.00zM242.74 211.2H248.47V213.6H242.74zM248.47 218.4H254.20V220.8H248.47zM259.94 218.4H265.67V220.8H259.94zM409.01 223.2H414.74V225.6H409.01zM431.94 220.8H437.67V223.2H431.94zM454.87 218.4H460.61V220.8H454.87zM460.61 218.4H466.34V220.8H460.61z"/>
<path fill="#44bf70" stroke="#44bf70" stroke-width="0.3" d="M110.87 182.4H116.60V184.8H110.87zM122.33 172.8H128.07V175.2H122.33zM128.07 180.0H133.80V182.4H128.07zM139.53 177.6H145.27V180.0H139.53zM156.73 180.0H162.47V182.4H156.73zM162.47 182.4H168.20V184.8H162.47zM168.20 184.8H173.93V187.2H168.20zM173.93 180.0H179.67V182.4H173.93zM173.93 187.2H179.67V189.6H173.93zM179.67 182.4H185.40V184.8H179.67zM185.40 184.8H191.13V187.2H185.40zM191.13 187.2H196.87V189.6H191.13zM202.60 199.2H208.34V201.6H202.60zM225.54 204.0H231.27V206.4H225.54zM231.27 206.4H237.00V208.8H231.27zM237.00 213.6H242.74V216.0H237.00zM242.74 216.0H248.47V218.4H242.74zM282.87 225.6H288.60V228.0H282.87zM386.07 232.8H391.80V235.2H386.07zM391.80 232.8H397.54V235.2H391.80zM495.01 218.4H500.74V220.8H495.01zM500.74 223.2H506.47V225.6H500.74zM540.87 213.6H546.61V216.0H540.87zM644.08 204.0H649.81V206.4H644.08z"/>
<path fill="#3bbb75" stroke="#3bbb75" stroke-width="0.3" d="M105.13 175.2H110.87V177.6H105.13zM105.13 182.4H110.87V184.8H105.13zM139.53 170.4H145.27V172.8H139.53zM156.73 172.8H162.47V175.2H156.73zM162.47 175.2H168.20V177.6H162.47zM168.20 177.6H173.93V180.0H168.20zM219.80 201.6H225.54V204.0H219.80zM265.67 220.8H271.40V223.2H265.67zM414.74 223.2H420.47V225.6H414.74zM420.47 230.4H426.21V232.8H420.47zM437.67 220.8H443.41V223.2H437.67zM443.41 220.8H449.14V223.2H443.41zM449.14 220.8H454.87V223.2H449.14zM529.41 220.8H535.14V223.2H529.41z"/>
<path fill="#35b779" stroke="#35b779" stroke-width="0.3" d="M110.87 175.2H116.60V177.6H110.87zM122.33 180.0H128.07V182.4H122.33zM128.07 172.8H133.80V175.2H128.07zM145.27 170.4H151.00V172.8H145.27zM151.00 177.6H156.73V180.0H151.00zM208.34 201.6H214.07V204.0H208.34zM214.07 199.2H219.80V201.6H214.07zM219.80 206.4H225.54V208.8H219.80zM225.54 208.8H231.27V211.2H225.54zM231.27 211.2H237.00V213.6H231.27zM265.67 228.0H271.40V230.4H265.67zM271.40 230.4H277.14V232.8H271.40zM454.87 220.8H460.61V223.2H454.87zM581.01 206.4H586.74V208.8H581.01zM621.14 206.4H626.88V208.8H621.14zM712.88 194.4H718.61V196.8H712.88zM718.61 194.4H724.34V196.8H718.61z"/>
<path fill="#2fb47c" stroke="#2fb47c" stroke-width="0.3" d="M133.80 177.6H139.53V180.0H133.80zM185.40 189.6H191.13V192.0H185.40zM191.13 192.0H196.87V194.4H191.13zM196.87 192.0H202.60V196.8H196.87zM202.60 194.4H208.34V196.8H202.60zM208.34 196.8H214.07V199.2H208.34zM214.07 204.0H219.80V206.4H214.07zM254.20 218.4H259.94V220.8H254.20zM259.94 220.8H265.67V223.2H259.94zM271.40 223.2H277.14V225.6H271.40zM460.61 220.8H466.34V223.2H460.61zM615.41 201.6H621.14V204.0H615.41zM632.61 199.2H638.34V201.6H632.61zM735.81 184.8H741.54V187.2H735.81zM741.54 184.8H747.28V187.2H741.54zM747.28 189.6H753.01V192.0H747.28zM753.01 189.6H758.74V192.0H753.01z"/>
<path fill="#2ab07f" stroke="#2ab07f" stroke-width="0.3" d="M116.60 175.2H122.33V177.6H116.60zM116.60 180.0H122.33V182.4H116.60zM133.80 172.8H139.53V175.2H133.80zM151.00 172.8H156.73V175.2H151.00zM168.20 182.4H173.93V184.8H168.20zM173.93 184.8H179.67V187.2H173.93zM179.67 184.8H185.40V189.6H179.67zM185.40 187.2H191.13V189.6H185.40zM191.13 189.6H196.87V192.0H191.13zM202.60 196.8H208.34V199.2H202.60zM242.74 213.6H248.47V216.0H242.74zM248.47 216.0H254.20V218.4H248.47zM265.67 223.2H271.40V225.6H265.67zM271.40 228.0H277.14V230.4H271.40zM420.47 223.2H426.21V225.6H420.47zM563.81 208.8H569.54V211.2H563.81z"/>
<path fill="#25ac82" stroke="#25ac82" stroke-width="0.3" d="M110.87 180.0H116.60V182.4H110.87zM122.33 175.2H128.07V177.6H122.33zM128.07 177.6H133.80V180.0H128.07zM145.27 175.2H151.00V177.6H145.27zM156.73 175.2H162.47V180.0H156.73zM162.47 177.6H168.20V182.4H162.47zM168.20 180.0H173.93V182.4H168.20zM173.93 182.4H179.67V184.8H173.93zM208.34 199.2H214.07V201.6H208.34zM237.00 211.2H242.74V213.6H237.00zM271.40 225.6H277.14V228.0H271.40zM454.87 228.0H460.61V230.4H454.87zM466.34 220.8H472.07V223.2H466.34zM649.81 196.8H655.54V199.2H649.81z"/>
<path fill="#22a884" stroke="#22a884" stroke-width="0.3" d="M105.13 177.6H110.87V182.4H105.13zM139.53 172.8H145.27V177.6H139.53zM214.07 201.6H219.80V204.0H214.07zM219.80 204.0H225.54V206.4H219.80zM225.54 206.4H231.27V208.8H225.54zM231.27 208.8H237.00V211.2H231.27zM277.14 228.0H282.87V232.8H277.14zM414.74 230.4H420.47V232.8H414.74zM500.74 218.4H506.47V220.8H500.74zM661.28 201.6H667.01V204.0H661.28zM667.01 194.4H672.74V196.8H667.01z"/>
<path fill="#20a486" stroke="#20a486" stroke-width="0.3" d="M110.87 177.6H116.60V180.0H110.87zM116.60 177.6H122.33V180.0H116.60zM122.33 177.6H128.07V180.0H122.33zM128.07 175.2H133.80V177.6H128.07zM133.80 175.2H139.53V177.6H133.80zM145.27 172.8H151.00V175.2H145.27zM151.00 175.2H156.73V177.6H151.00zM277.14 225.6H282.87V228.0H277.14zM426.21 223.2H431.94V225.6H426.21zM598.21 204.0H603.94V206.4H598.21z"/>
<path fill="#1fa188" stroke="#1fa188" stroke-width="0.3" d="M282.87 230.4H288.60V232.8H282.87zM529.41 216.0H535.14V218.4H529.41z"/>
<path fill="#1e9c89" stroke="#1e9c89" stroke-width="0.3" d="M472.07 220.8H477.81V223.2H472.07zM563.81 213.6H569.54V216.0H563.81z"/>
<path fill="#1f988b" stroke="#1f988b" stroke-width="0.3" d="M288.60 232.8H294.34V235.2H288.60zM409.01 230.4H414.74V232.8H409.01zM431.94 223.2H437.67V225.6H431.94zM449.14 223.2H454.87V225.6H449.14z"/>
<path fill="#1f948c" stroke="#1f948c" stroke-width="0.3" d="M282.87 228.0H288.60V230.4H282.87zM443.41 223.2H449.14V225.6H443.41z"/>
<path fill="#21908d" stroke="#21908d" stroke-width="0.3" d="M472.07 225.6H477.81V228.0H472.07z"/>
<path fill="#228c8d" stroke="#228c8d" stroke-width="0.3" d="M437.67 223.2H443.41V225.6H437.67zM540.87 218.4H546.61V220.8H540.87zM598.21 208.8H603.94V211.2H598.21zM701.41 189.6H707.14V192.0H701.41zM707.14 189.6H712.88V192.0H707.14z"/>
<path fill="#23888e" stroke="#23888e" stroke-width="0.3" d="M300.07 228.0H305.80V230.4H300.07zM305.80 228.0H311.54V230.4H305.80zM311.54 228.0H317.27V230.4H311.54zM317.27 228.0H323.00V230.4H317.27zM323.00 228.0H328.74V230.4H323.00zM328.74 228.0H334.47V230.4H328.74zM334.47 228.0H340.20V230.4H334.47zM340.20 228.0H345.94V230.4H340.20zM345.94 228.0H351.67V230.4H345.94zM495.01 223.2H500.74V225.6H495.01z"/>
<path fill="#25848e" stroke="#25848e" stroke-width="0.3" d="M638.34 204.0H644.08V206.4H638.34zM672.74 199.2H678.48V201.6H672.74zM678.48 199.2H684.21V201.6H678.48z"/>
<path fill="#27808e" stroke="#27808e" stroke-width="0.3" d="M294.34 228.0H300.07V230.4H294.34zM477.81 220.8H483.54V223.2H477.81zM506.47 218.4H512.21V220.8H506.47z"/>
<path fill="#287c8e" stroke="#287c8e" stroke-width="0.3" d="M581.01 211.2H586.74V213.6H581.01z"/>
<path fill="#2a788e" stroke="#2a788e" stroke-width="0.3" d="M288.60 228.0H294.34V230.4H288.60z"/>
<path fill="#2d708e" stroke="#2d708e" stroke-width="0.3" d="M454.87 223.2H460.61V225.6H454.87z"/>
<path fill="#31688e" stroke="#31688e" stroke-width="0.3" d="M288.60 230.4H294.34V232.8H288.60zM552.34 216.0H558.07V218.4H552.34zM638.34 199.2H644.08V201.6H638.34z"/>
<path fill="#32648e" stroke="#32648e" stroke-width="0.3" d="M615.41 206.4H621.14V208.8H615.41zM621.14 201.6H626.88V204.0H621.14z"/>
<path fill="#355f8d" stroke="#355f8d" stroke-width="0.3" d="M294.34 230.4H300.07V232.8H294.34zM300.07 230.4H305.80V232.8H300.07zM305.80 230.4H311.54V232.8H305.80zM311.54 230.4H317.27V232.8H311.54zM317.27 230.4H323.00V232.8H317.27zM323.00 230.4H328.74V232.8H323.00zM328.74 230.4H334.47V232.8H328.74zM334.47 230.4H340.20V232.8H334.47zM340.20 230.4H345.94V232.8H340.20zM345.94 230.4H351.67V232.8H345.94zM655.54 196.8H661.28V199.2H655.54zM655.54 201.6H661.28V204.0H655.54zM724.34 192.0H730.08V194.4H724.34zM730.08 192.0H735.81V194.4H730.08z"/>
<path fill="#375b8d" stroke="#375b8d" stroke-width="0.3" d="M684.21 192.0H689.94V194.4H684.21zM684.21 196.8H689.94V199.2H684.21zM689.94 192.0H695.68V194.4H689.94zM689.94 196.8H695.68V199.2H689.94zM695.68 192.0H701.41V194.4H695.68zM695.68 196.8H701.41V199.2H695.68z"/>
<path fill="#39568c" stroke="#39568c" stroke-width="0.3" d="M374.60 232.8H380.34V235.2H374.60zM380.34 232.8H386.07V235.2H380.34zM409.01 225.6H414.74V228.0H409.01zM483.54 220.8H489.27V223.2H483.54zM512.21 218.4H517.94V220.8H512.21zM569.54 208.8H575.27V211.2H569.54zM603.94 204.0H609.68V206.4H603.94z"/>
<path fill="#3b518b" stroke="#3b518b" stroke-width="0.3" d="M724.34 187.2H730.08V189.6H724.34zM730.08 187.2H735.81V189.6H730.08z"/>
<path fill="#3d4d8a" stroke="#3d4d8a" stroke-width="0.3" d="M351.67 228.0H357.40V230.4H351.67zM357.40 228.0H363.14V230.4H357.40zM363.14 228.0H368.87V230.4H363.14z"/>
<path fill="#414487" stroke="#414487" stroke-width="0.3" d="M546.61 213.6H552.34V216.0H546.61z"/>
<path fill="#433e85" stroke="#433e85" stroke-width="0.3" d="M489.27 223.2H495.01V225.6H489.27zM523.67 220.8H529.41V223.2H523.67z"/>
<path fill="#443983" stroke="#443983" stroke-width="0.3" d="M414.74 225.6H420.47V228.0H414.74z"/>
<path fill="#463480" stroke="#463480" stroke-width="0.3" d="M460.61 223.2H466.34V225.6H460.61zM466.34 225.6H472.07V228.0H466.34zM535.14 216.0H540.87V218.4H535.14z"/>
<path fill="#472f7d" stroke="#472f7d" stroke-width="0.3" d="M351.67 230.4H357.40V232.8H351.67zM357.40 230.4H363.14V232.8H357.40zM363.14 230.4H368.87V232.8H363.14zM586.74 206.4H592.47V208.8H586.74z"/>
<path fill="#482979" stroke="#482979" stroke-width="0.3" d="M672.74 194.4H678.48V196.8H672.74zM678.48 194.4H684.21V196.8H678.48z"/>
<path fill="#482475" stroke="#482475" stroke-width="0.3" d="M632.61 204.0H638.34V206.4H632.61z"/>
<path fill="#481f70" stroke="#481f70" stroke-width="0.3" d="M420.47 225.6H426.21V228.0H420.47zM592.47 208.8H598.21V211.2H592.47z"/>
<path fill="#481a6c" stroke="#481a6c" stroke-width="0.3" d="M517.94 218.4H523.67V220.8H517.94z"/>
<path fill="#471365" stroke="#471365" stroke-width="0.3" d="M489.27 220.8H495.01V223.2H489.27zM701.41 194.4H707.14V196.8H701.41zM707.14 194.4H712.88V196.8H707.14z"/>
<path fill="#46075a" stroke="#46075a" stroke-width="0.3" d="M409.01 228.0H414.74V230.4H409.01z"/>
<path fill="#440154" stroke="#440154" stroke-width="0.3" d="M294.34 232.8H300.07V235.2H294.34zM300.07 232.8H305.80V235.2H300.07zM305.80 232.8H311.54V235.2H305.80zM311.54 232.8H317.27V235.2H311.54zM317.27 232.8H323.00V235.2H317.27zM323.00 232.8H328.74V235.2H323.00zM328.74 232.8H334.47V235.2H328.74zM334.47 232.8H340.20V235.2H334.47zM340.20 232.8H345.94V235.2H340.20zM345.94 232.8H351.67V235.2H345.94zM351.67 232.8H357.40V235.2H351.67zM357.40 232.8H363.14V235.2H357.40zM363.14 232.8H368.87V235.2H363.14zM368.87 228.0H374.60V235.2H368.87zM374.60 228.0H380.34V232.8H374.60zM380.34 228.0H386.07V232.8H380.34zM386.07 228.0H391.80V232.8H386.07zM391.80 228.0H397.54V232.8H391.80zM397.54 228.0H403.27V232.8H397.54zM403.27 228.0H409.01V232.8H403.27zM414.74 228.0H420.47V230.4H414.74zM420.47 228.0H426.21V230.4H420.47zM426.21 225.6H431.94V230.4H426.21zM431.94 225.6H437.67V230.4H431.94zM437.67 225.6H443.41V230.4H437.67zM443.41 225.6H449.14V230.4H443.41zM449.14 225.6H454.87V230.4H449.14zM454.87 225.6H460.61V228.0H454.87zM460.61 225.6H466.34V228.0H460.61zM466.34 223.2H472.07V225.6H466.34zM472.07 223.2H477.81V225.6H472.07zM477.81 223.2H483.54V225.6H477.81zM483.54 223.2H489.27V225.6H483.54zM495.01 220.8H500.74V223.2H495.01zM500.74 220.8H506.47V223.2H500.74zM506.47 220.8H512.21V223.2H506.47zM512.21 220.8H517.94V223.2H512.21zM517.94 220.8H523.67V223.2H517.94zM523.67 218.4H529.41V220.8H523.67zM529.41 218.4H535.14V220.8H529.41zM535.14 218.4H540.87V220.8H535.14zM540.87 216.0H546.61V218.4H540.87zM546.61 216.0H552.34V218.4H546.61zM552.34 213.6H558.07V216.0H552.34zM558.07 211.2H563.81V216.0H558.07zM563.81 211.2H569.54V213.6H563.81zM569.54 211.2H575.27V213.6H569.54zM575.27 208.8H581.01V213.6H575.27zM581.01 208.8H586.74V211.2H581.01zM586.74 208.8H592.47V211.2H586.74zM592.47 206.4H598.21V208.8H592.47zM598.21 206.4H603.94V208.8H598.21zM603.94 206.4H609.68V208.8H603.94zM609.68 204.0H615.41V208.8H609.68zM615.41 204.0H621.14V206.4H615.41zM621.14 204.0H626.88V206.4H621.14zM626.88 201.6H632.61V206.4H626.88zM632.61 201.6H638.34V204.0H632.61zM638.34 201.6H644.08V204.0H638.34zM644.08 199.2H649.81V204.0H644.08zM649.81 199.2H655.54V204.0H649.81zM655.54 199.2H661.28V201.6H655.54zM661.28 196.8H667.01V201.6H661.28zM667.01 196.8H672.74V201.6H667.01zM672.74 196.8H678.48V199.2H672.74zM678.48 196.8H684.21V199.2H678.48zM684.21 194.4H689.94V196.8H684.21zM689.94 194.4H695.68V196.8H689.94zM695.68 194.4H701.41V196.8H695.68zM701.41 192.0H707.14V194.4H701.41zM707.14 192.0H712.88V194.4H707.14zM712.88 189.6H718.61V194.4H712.88zM718.61 189.6H724.34V194.4H718.61zM724.34 189.6H730.08V192.0H724.34zM730.08 189.6H735.81V192.0H730.08zM735.81 187.2H741.54V192.0H735.81zM741.54 187.2H747.28V192.0H741.54zM747.28 184.8H753.01V189.6H747.28zM753.01 184.8H758.74V189.6H753.01z"/>
</g>
<g stroke="#b0b0b0" stroke-width="1" shape-rendering="crispEdges">
<path d="M154.5 60V420"/>
<path d="M181.5 60V420"/>
<path d="M200.5 60V420"/>
<path d="M215.5 60V420"/>
<path d="M227.5 60V420"/>
<path d="M237.5 60V420"/>
<path d="M246.5 60V420"/>
<path d="M253.5 60V420"/>
<path d="M260.5 60V420"/>
<path d="M306.5 60V420"/>
<path d="M333.5 60V420"/>
<path d="M352.5 60V420"/>
<path d="M367.5 60V420"/>
<path d="M379.5 60V420"/>
<path d="M389.5 60V420"/>
<path d="M398.5 60V420"/>
<path d="M406.5 60V420"/>
<path d="M413.5 60V420"/>
<path d="M459.5 60V420"/>
<path d="M485.5 60V420"/>
<path d="M504.5 60V420"/>
<path d="M519.5 60V420"/>
<path d="M531.5 60V420"/>
<path d="M542.5 60V420"/>
<path d="M550.5 60V420"/>
<path d="M558.5 60V420"/>
<path d="M565.5 60V420"/>
<path d="M611.5 60V420"/>
<path d="M638.5 60V420"/>
<path d="M657.5 60V420"/>
<path d="M672.5 60V420"/>
<path d="M684.5 60V420"/>
<path d="M694.5 60V420"/>
<path d="M703.5 60V420"/>
<path d="M711.5 60V420"/>
<path d="M717.5 60V420"/>
<path d="M108 372.5H756"/>
<path d="M108 324.5H756"/>
<path d="M108 276.5H756"/>
<path d="M108 228.5H756"/>
<path d="M108 180.5H756"/>
<path d="M108 132.5H756"/>
<path d="M108 84.5H756"/>
</g>
<g clip-path="url(#ax)" fill="none" stroke="#666" stroke-width="2.78" stroke-linejoin="round" stroke-linecap="square">
<path d="M260.37 159.60L312.54 173.78L337.34 205.20L397.97 228.00L501.08 175.20L513.72 171.60L534.53 182.40L549.51 212.40L593.68 228.00L610.97 272.40L801.27 242.40"/>
<path d="M260.37 343.20L295.48 340.08L352.10 340.08L397.97 346.08L426.97 332.88L470.67 296.64L509.26 278.64L519.24 278.64L531.30 297.60L565.10 333.12L577.17 338.88L594.53 329.04L616.98 366.00L641.24 384.00L664.63 390.00L693.87 390.00L718.13 384.00L746.05 384.00L796.08 390.00"/>
</g>
<g stroke="#000" stroke-width="1" fill="none" shape-rendering="crispEdges">
<rect x="108.5" y="60.5" width="648" height="360"/>
<path d="M108.5 420.5v5"/>
<path d="M260.5 420.5v5"/>
<path d="M413.5 420.5v5"/>
<path d="M565.5 420.5v5"/>
<path d="M717.5 420.5v5"/>
<path d="M108.5 420.5h-5"/>
<path d="M108.5 372.5h-5"/>
<path d="M108.5 324.5h-5"/>
<path d="M108.5 276.5h-5"/>
<path d="M108.5 228.5h-5"/>
<path d="M108.5 180.5h-5"/>
<path d="M108.5 132.5h-5"/>
<path d="M108.5 84.5h-5"/>
</g>
<g stroke="#000" stroke-width="0.8" fill="none" shape-rendering="crispEdges">
<path d="M154.5 420.5v3"/>
<path d="M181.5 420.5v3"/>
<path d="M200.5 420.5v3"/>
<path d="M215.5 420.5v3"/>
<path d="M227.5 420.5v3"/>
<path d="M237.5 420.5v3"/>
<path d="M246.5 420.5v3"/>
<path d="M253.5 420.5v3"/>
<path d="M306.5 420.5v3"/>
<path d="M333.5 420.5v3"/>
<path d="M352.5 420.5v3"/>
<path d="M367.5 420.5v3"/>
<path d="M379.5 420.5v3"/>
<path d="M389.5 420.5v3"/>
<path d="M398.5 420.5v3"/>
<path d="M406.5 420.5v3"/>
<path d="M459.5 420.5v3"/>
<path d="M485.5 420.5v3"/>
<path d="M504.5 420.5v3"/>
<path d="M519.5 420.5v3"/>
<path d="M531.5 420.5v3"/>
<path d="M542.5 420.5v3"/>
<path d="M550.5 420.5v3"/>
<path d="M558.5 420.5v3"/>
<path d="M611.5 420.5v3"/>
<path d="M638.5 420.5v3"/>
<path d="M657.5 420.5v3"/>
<path d="M672.5 420.5v3"/>
<path d="M684.5 420.5v3"/>
<path d="M694.5 420.5v3"/>
<path d="M703.5 420.5v3"/>
<path d="M711.5 420.5v3"/>
</g>
<text x="108.8" y="440.8" text-anchor="middle" textLength="29.5">0.01</text>
<text x="261.2" y="440.8" text-anchor="middle" textLength="21.0">0.1</text>
<text x="413.5" y="440.8" text-anchor="middle">1</text>
<text x="565.9" y="440.8" text-anchor="middle" textLength="16.5">10</text>
<text x="718.3" y="440.8" text-anchor="middle" textLength="25.3">100</text>
<text x="97.4" y="425.6" text-anchor="end" textLength="36.8">−200</text>
<text x="97.4" y="377.6" text-anchor="end" textLength="36.8">−180</text>
<text x="97.4" y="329.6" text-anchor="end" textLength="36.8">−160</text>
<text x="97.4" y="281.6" text-anchor="end" textLength="36.8">−140</text>
<text x="97.4" y="233.6" text-anchor="end" textLength="36.8">−120</text>
<text x="97.4" y="185.6" text-anchor="end" textLength="36.8">−100</text>
<text x="97.4" y="137.6" text-anchor="end" textLength="28.0">−80</text>
<text x="97.4" y="89.6" text-anchor="end" textLength="28.0">−60</text>
<text x="432" y="460.2" text-anchor="middle">Period [s]</text>
<text transform="translate(46.6,240.5) rotate(-90)" text-anchor="middle">Amplitude [<tspan font-style="oblique">m</tspan><tspan dy="-5" font-size="9.72">2</tspan><tspan dy="5">/</tspan><tspan font-style="oblique">s</tspan><tspan dy="-5" font-size="9.72">4</tspan><tspan dy="5">/</tspan><tspan font-style="oblique">Hz</tspan>] [dB]</text>
<text x="432.4" y="51.7" text-anchor="middle" textLength="635" lengthAdjust="spacing">HL.KARA.00.HNZ | 200.0Hz | 2024-12-13T00:00:01 - 2025-06-24T19:00:00 | 9017 segments</text>
<rect x="797.5" y="60.5" width="18" height="360" fill="url(#cb)"/>
<g stroke="#000" stroke-width="1" fill="none" shape-rendering="crispEdges"><rect x="797.5" y="60.5" width="18" height="360"/>
<path d="M816 420.5h4"/>
<path d="M816 360.5h4"/>
<path d="M816 300.5h4"/>
<path d="M816 240.5h4"/>
<path d="M816 180.5h4"/>
<path d="M816 120.5h4"/>
<path d="M816 60.5h4"/>
</g>
<text x="825.1" y="425.6">0</text>
<text x="825.1" y="365.6">5</text>
<text x="825.1" y="305.6" textLength="16.3">10</text>
<text x="825.1" y="245.6" textLength="16.3">15</text>
<text x="825.1" y="185.6" textLength="16.3">20</text>
<text x="825.1" y="125.6" textLength="16.3">25</text>
<text x="825.1" y="65.6" textLength="16.3">30</text>
<text transform="translate(859.3,242.2) rotate(-90)" text-anchor="middle">[%]</text>
<g shape-rendering="crispEdges">
<rect x="164" y="474" width="571.7" height="9.6" fill="#008000"/>
<rect x="167" y="483.6" width="568.7" height="14.9" fill="#0000ff"/>
<rect x="216.0" y="483.6" width="1" height="14.4" fill="#fff"/>
<rect x="363.0" y="483.6" width="1" height="14.4" fill="#fff"/>
<rect x="410.0" y="483.6" width="1" height="14.4" fill="#fff"/>
<rect x="510.0" y="483.6" width="1" height="14.4" fill="#fff"/>
<rect x="557.0" y="483.6" width="1" height="14.4" fill="#fff"/>
<rect x="607.0" y="483.6" width="1" height="14.4" fill="#fff"/>
<rect x="654.0" y="483.6" width="1" height="14.4" fill="#fff"/>
<g stroke="#000" stroke-width="1" fill="none"><rect x="135.5" y="474.5" width="630" height="24"/>
<path d="M222.5 499v5"/>
<path d="M313.5 499v5"/>
<path d="M395.5 499v5"/>
<path d="M486.5 499v5"/>
<path d="M575.5 499v5"/>
<path d="M666.5 499v5"/>
<path d="M754.5 499v5"/>
</g></g>
<text transform="translate(220.6,517.1) rotate(-30)" text-anchor="end">2025-01</text>
<text transform="translate(311.7,517.1) rotate(-30)" text-anchor="end">2025-02</text>
<text transform="translate(394.0,517.1) rotate(-30)" text-anchor="end">2025-03</text>
<text transform="translate(485.1,517.1) rotate(-30)" text-anchor="end">2025-04</text>
<text transform="translate(573.2,517.1) rotate(-30)" text-anchor="end">2025-05</text>
<text transform="translate(664.3,517.1) rotate(-30)" text-anchor="end">2025-06</text>
<text transform="translate(752.5,517.1) rotate(-30)" text-anchor="end">2025-07</text>
<rect x="0" y="577" width="900" height="23" fill="#808080"/>
<text x="9" y="594.7" fill="#fff" style="fill:#fff" textLength="534.6" lengthAdjust="spacing">Generated by SeedPSD on 2025-12-13 | Calculations updated on 2025-09-18</text>
</svg></body></html>
